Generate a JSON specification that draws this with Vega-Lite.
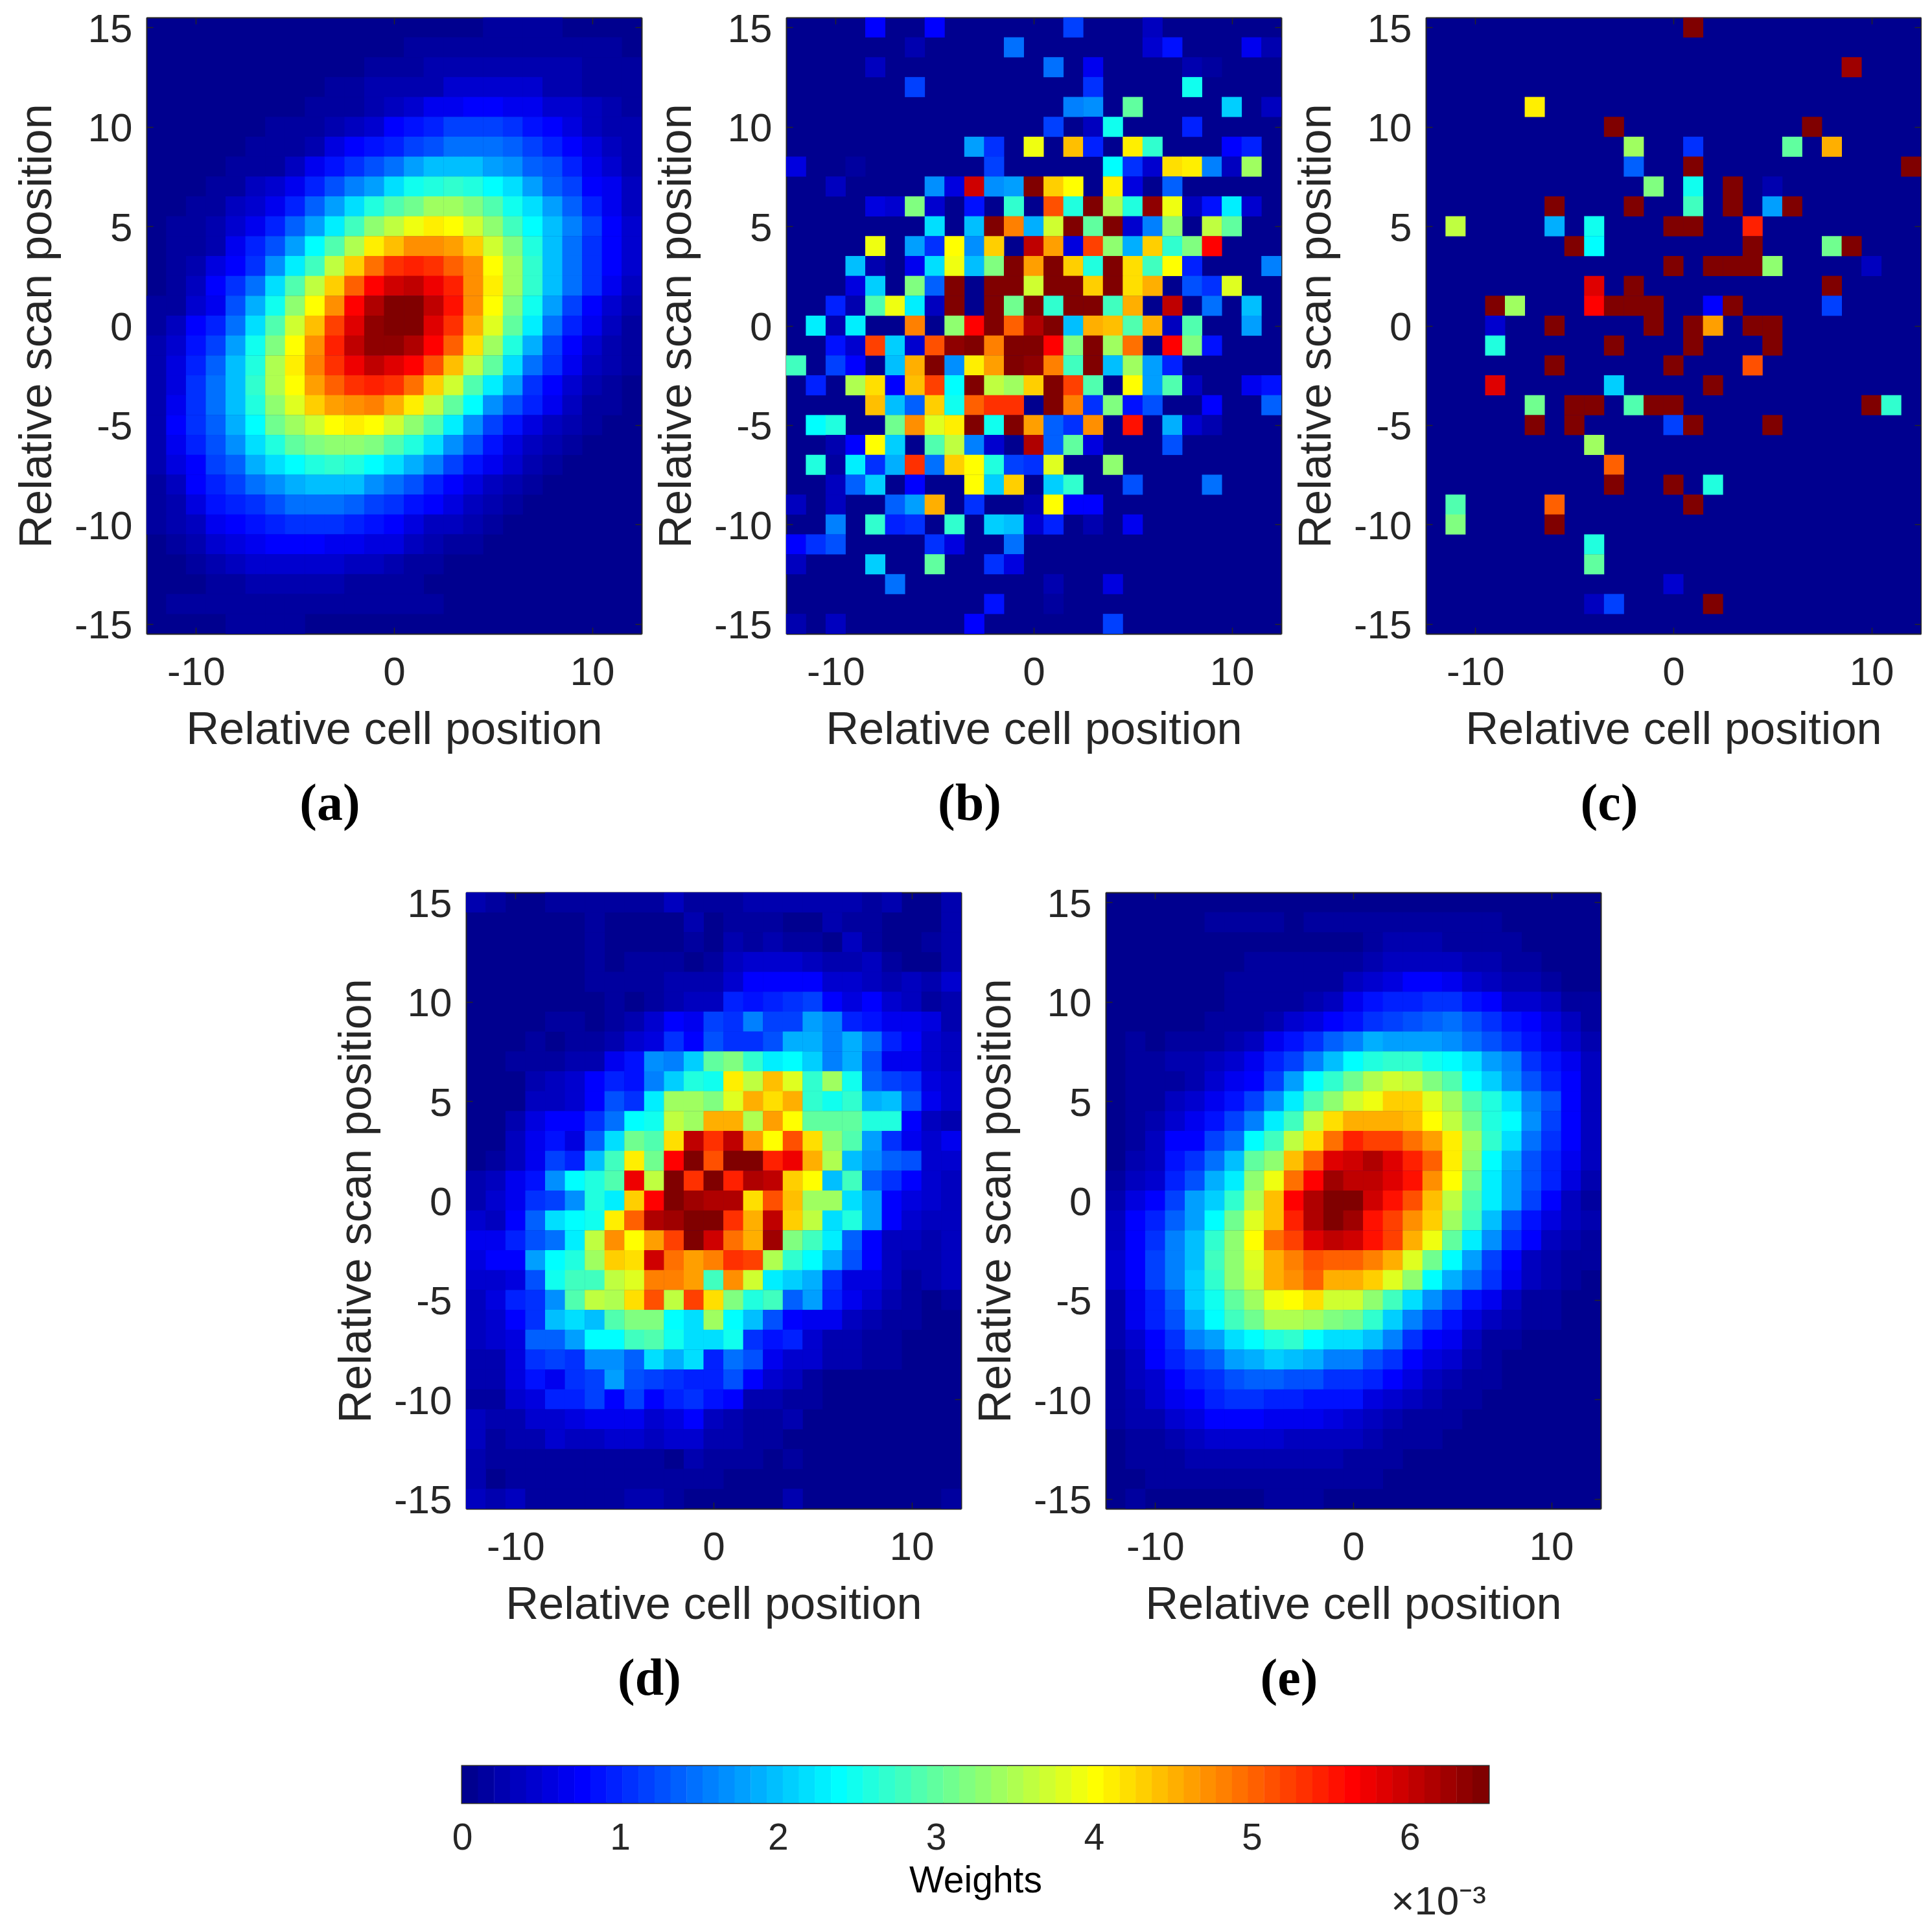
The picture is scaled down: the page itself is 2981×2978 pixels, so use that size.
{"$schema":"https://vega.github.io/schema/vega-lite/v6.json","background":"white","padding":{"left":21,"top":14,"right":0,"bottom":0},"autosize":{"type":"pad"},
"config":{"view":{"stroke":null,"fill":"#00008f"},"axis":{"grid":false,"zindex":1,"labelFont":"Liberation Sans","labelFontSize":62,"labelColor":"#262626","titleFont":"Liberation Sans","titleFontSize":70.5,"titleFontWeight":"normal","titleColor":"#262626","domainColor":"#262626","domainWidth":2,"tickColor":"#262626","tickWidth":1.5,"tickSize":-10,"labelFlush":false,"labelOverlap":false,"labelBound":false},"axisX":{"labelAngle":0,"labelPadding":39,"titleBaseline":"alphabetic","titleY":169},"axisY":{"labelPadding":32,"labelOffset":3,"titleBaseline":"alphabetic","titleX":-148},"title":{"font":"Liberation Serif","fontWeight":"bold","fontSize":80,"color":"#000000"}},
"datasets":{
"a":[{"x":5,"y":15,"v":0.15},{"x":6,"y":15,"v":0.15},{"x":7,"y":15,"v":0.15},{"x":8,"y":15,"v":0.15},{"x":1,"y":14,"v":0.15},{"x":3,"y":14,"v":0.15},{"x":5,"y":14,"v":0.15},{"x":7,"y":14,"v":0.15},{"x":9,"y":14,"v":0.15},{"x":11,"y":14,"v":0.15},{"x":2,"y":14,"v":0.15},{"x":4,"y":14,"v":0.15},{"x":6,"y":14,"v":0.15},{"x":8,"y":14,"v":0.15},{"x":10,"y":14,"v":0.15},{"x":-1,"y":13,"v":0.15},{"x":0,"y":13,"v":0.15},{"x":1,"y":13,"v":0.15},{"x":2,"y":13,"v":0.25},{"x":3,"y":13,"v":0.25},{"x":4,"y":13,"v":0.25},{"x":5,"y":13,"v":0.25},{"x":6,"y":13,"v":0.25},{"x":7,"y":13,"v":0.25},{"x":8,"y":13,"v":0.25},{"x":9,"y":13,"v":0.25},{"x":10,"y":13,"v":0.15},{"x":11,"y":13,"v":0.15},{"x":12,"y":13,"v":0.15},{"x":-3,"y":12,"v":0.15},{"x":-2,"y":12,"v":0.15},{"x":-1,"y":12,"v":0.25},{"x":0,"y":12,"v":0.25},{"x":1,"y":12,"v":0.3},{"x":2,"y":12,"v":0.3},{"x":3,"y":12,"v":0.45},{"x":4,"y":12,"v":0.45},{"x":5,"y":12,"v":0.45},{"x":6,"y":12,"v":0.45},{"x":7,"y":12,"v":0.45},{"x":8,"y":12,"v":0.3},{"x":9,"y":12,"v":0.3},{"x":10,"y":12,"v":0.2},{"x":11,"y":12,"v":0.2},{"x":12,"y":12,"v":0.2},
{"x":-4,"y":11,"v":0.15},{"x":-3,"y":11,"v":0.15},{"x":-2,"y":11,"v":0.2},{"x":-1,"y":11,"v":0.3},{"x":0,"y":11,"v":0.4},{"x":1,"y":11,"v":0.5},{"x":2,"y":11,"v":0.7},{"x":3,"y":11,"v":0.7},{"x":4,"y":11,"v":0.8},{"x":5,"y":11,"v":0.8},{"x":6,"y":11,"v":0.7},{"x":7,"y":11,"v":0.7},{"x":8,"y":11,"v":0.5},{"x":9,"y":11,"v":0.45},{"x":10,"y":11,"v":0.35},{"x":11,"y":11,"v":0.25},{"x":12,"y":11,"v":0.2},
{"x":-6,"y":10,"v":0.12},{"x":-5,"y":10,"v":0.12},{"x":-4,"y":10,"v":0.2},{"x":-3,"y":10,"v":0.3},{"x":-2,"y":10,"v":0.35},{"x":-1,"y":10,"v":0.5},{"x":0,"y":10,"v":0.75},{"x":1,"y":10,"v":0.85},{"x":2,"y":10,"v":1.0},{"x":3,"y":10,"v":1.15},{"x":4,"y":10,"v":1.15},{"x":5,"y":10,"v":1.15},{"x":6,"y":10,"v":1.05},{"x":7,"y":10,"v":0.9},{"x":8,"y":10,"v":0.75},{"x":9,"y":10,"v":0.6},{"x":10,"y":10,"v":0.4},{"x":11,"y":10,"v":0.3},{"x":12,"y":10,"v":0.25},
{"x":-7,"y":9,"v":0.12},{"x":-6,"y":9,"v":0.15},{"x":-5,"y":9,"v":0.15},{"x":-4,"y":9,"v":0.25},{"x":-3,"y":9,"v":0.55},{"x":-2,"y":9,"v":0.75},{"x":-1,"y":9,"v":0.85},{"x":0,"y":9,"v":1.0},{"x":1,"y":9,"v":1.15},{"x":2,"y":9,"v":1.3},{"x":3,"y":9,"v":1.45},{"x":4,"y":9,"v":1.45},{"x":5,"y":9,"v":1.45},{"x":6,"y":9,"v":1.35},{"x":7,"y":9,"v":1.15},{"x":8,"y":9,"v":0.95},{"x":9,"y":9,"v":0.8},{"x":10,"y":9,"v":0.6},{"x":11,"y":9,"v":0.4},{"x":12,"y":9,"v":0.25},
{"x":-8,"y":8,"v":0.12},{"x":-7,"y":8,"v":0.15},{"x":-6,"y":8,"v":0.15},{"x":-5,"y":8,"v":0.4},{"x":-4,"y":8,"v":0.7},{"x":-3,"y":8,"v":0.85},{"x":-2,"y":8,"v":1.05},{"x":-1,"y":8,"v":1.3},{"x":0,"y":8,"v":1.5},{"x":1,"y":8,"v":1.75},{"x":2,"y":8,"v":2.0},{"x":3,"y":8,"v":2.0},{"x":4,"y":8,"v":2.0},{"x":5,"y":8,"v":1.8},{"x":6,"y":8,"v":1.7},{"x":7,"y":8,"v":1.4},{"x":8,"y":8,"v":1.25},{"x":9,"y":8,"v":0.95},{"x":10,"y":8,"v":0.7},{"x":11,"y":8,"v":0.5},{"x":12,"y":8,"v":0.3},
{"x":-9,"y":7,"v":0.15},{"x":-8,"y":7,"v":0.2},{"x":-7,"y":7,"v":0.35},{"x":-6,"y":7,"v":0.45},{"x":-5,"y":7,"v":0.65},{"x":-4,"y":7,"v":1.0},{"x":-3,"y":7,"v":1.25},{"x":-2,"y":7,"v":1.55},{"x":-1,"y":7,"v":1.8},{"x":0,"y":7,"v":2.2},{"x":1,"y":7,"v":2.5},{"x":2,"y":7,"v":2.55},{"x":3,"y":7,"v":2.65},{"x":4,"y":7,"v":2.6},{"x":5,"y":7,"v":2.4},{"x":6,"y":7,"v":2.2},{"x":7,"y":7,"v":1.8},{"x":8,"y":7,"v":1.4},{"x":9,"y":7,"v":1.15},{"x":10,"y":7,"v":0.8},{"x":11,"y":7,"v":0.65},{"x":12,"y":7,"v":0.4},
{"x":-10,"y":6,"v":0.15},{"x":-9,"y":6,"v":0.2},{"x":-8,"y":6,"v":0.35},{"x":-7,"y":6,"v":0.5},{"x":-6,"y":6,"v":0.65},{"x":-5,"y":6,"v":0.95},{"x":-4,"y":6,"v":1.35},{"x":-3,"y":6,"v":1.8},{"x":-2,"y":6,"v":2.2},{"x":-1,"y":6,"v":2.55},{"x":0,"y":6,"v":2.85},{"x":1,"y":6,"v":3.1},{"x":2,"y":6,"v":3.4},{"x":3,"y":6,"v":3.4},{"x":4,"y":6,"v":3.15},{"x":5,"y":6,"v":2.85},{"x":6,"y":6,"v":2.5},{"x":7,"y":6,"v":2.2},{"x":8,"y":6,"v":1.8},{"x":9,"y":6,"v":1.4},{"x":10,"y":6,"v":1.0},{"x":11,"y":6,"v":0.7},{"x":12,"y":6,"v":0.4},
{"x":-11,"y":5,"v":0.12},{"x":-10,"y":5,"v":0.15},{"x":-9,"y":5,"v":0.3},{"x":-8,"y":5,"v":0.45},{"x":-7,"y":5,"v":0.7},{"x":-6,"y":5,"v":0.95},{"x":-5,"y":5,"v":1.35},{"x":-4,"y":5,"v":1.8},{"x":-3,"y":5,"v":2.3},{"x":-2,"y":5,"v":2.8},{"x":-1,"y":5,"v":3.3},{"x":0,"y":5,"v":3.65},{"x":1,"y":5,"v":3.95},{"x":2,"y":5,"v":4.15},{"x":3,"y":5,"v":4.0},{"x":4,"y":5,"v":3.75},{"x":5,"y":5,"v":3.35},{"x":6,"y":5,"v":2.8},{"x":7,"y":5,"v":2.4},{"x":8,"y":5,"v":2.0},{"x":9,"y":5,"v":1.6},{"x":10,"y":5,"v":1.2},{"x":11,"y":5,"v":0.8},{"x":12,"y":5,"v":0.5},
{"x":-11,"y":4,"v":0.12},{"x":-10,"y":4,"v":0.2},{"x":-9,"y":4,"v":0.3},{"x":-8,"y":4,"v":0.7},{"x":-7,"y":4,"v":0.95},{"x":-6,"y":4,"v":1.25},{"x":-5,"y":4,"v":1.8},{"x":-4,"y":4,"v":2.4},{"x":-3,"y":4,"v":2.9},{"x":-2,"y":4,"v":3.55},{"x":-1,"y":4,"v":4.15},{"x":0,"y":4,"v":4.45},{"x":1,"y":4,"v":4.7},{"x":2,"y":4,"v":4.7},{"x":3,"y":4,"v":4.6},{"x":4,"y":4,"v":4.3},{"x":5,"y":4,"v":3.75},{"x":6,"y":4,"v":3.2},{"x":7,"y":4,"v":2.6},{"x":8,"y":4,"v":2.0},{"x":9,"y":4,"v":1.5},{"x":10,"y":4,"v":1.05},{"x":11,"y":4,"v":0.75},{"x":12,"y":4,"v":0.45},
{"x":-11,"y":3,"v":0.15},{"x":-10,"y":3,"v":0.3},{"x":-9,"y":3,"v":0.55},{"x":-8,"y":3,"v":0.75},{"x":-7,"y":3,"v":1.1},{"x":-6,"y":3,"v":1.7},{"x":-5,"y":3,"v":2.25},{"x":-4,"y":3,"v":2.8},{"x":-3,"y":3,"v":3.65},{"x":-2,"y":3,"v":4.35},{"x":-1,"y":3,"v":4.9},{"x":0,"y":3,"v":5.3},{"x":1,"y":3,"v":5.45},{"x":2,"y":3,"v":5.35},{"x":3,"y":3,"v":5.05},{"x":4,"y":3,"v":4.7},{"x":5,"y":3,"v":4.0},{"x":6,"y":3,"v":3.4},{"x":7,"y":3,"v":2.7},{"x":8,"y":3,"v":2.0},{"x":9,"y":3,"v":1.5},{"x":10,"y":3,"v":1.1},{"x":11,"y":3,"v":0.8},{"x":12,"y":3,"v":0.45},
{"x":-11,"y":2,"v":0.2},{"x":-10,"y":2,"v":0.35},{"x":-9,"y":2,"v":0.75},{"x":-8,"y":2,"v":1.1},{"x":-7,"y":2,"v":1.5},{"x":-6,"y":2,"v":2.2},{"x":-5,"y":2,"v":2.9},{"x":-4,"y":2,"v":3.6},{"x":-3,"y":2,"v":4.35},{"x":-2,"y":2,"v":5.0},{"x":-1,"y":2,"v":5.6},{"x":0,"y":2,"v":5.9},{"x":1,"y":2,"v":6.0},{"x":2,"y":2,"v":5.75},{"x":3,"y":2,"v":5.4},{"x":4,"y":2,"v":4.75},{"x":5,"y":2,"v":4.15},{"x":6,"y":2,"v":3.4},{"x":7,"y":2,"v":2.65},{"x":8,"y":2,"v":2.0},{"x":9,"y":2,"v":1.45},{"x":10,"y":2,"v":1.05},{"x":11,"y":2,"v":0.7},{"x":12,"y":2,"v":0.4},
{"x":-12,"y":1,"v":0.15},{"x":-11,"y":1,"v":0.2},{"x":-10,"y":1,"v":0.45},{"x":-9,"y":1,"v":0.7},{"x":-8,"y":1,"v":1.25},{"x":-7,"y":1,"v":1.85},{"x":-6,"y":1,"v":2.5},{"x":-5,"y":1,"v":3.3},{"x":-4,"y":1,"v":4.05},{"x":-3,"y":1,"v":4.75},{"x":-2,"y":1,"v":5.6},{"x":-1,"y":1,"v":6.1},{"x":0,"y":1,"v":6.4},{"x":1,"y":1,"v":6.4},{"x":2,"y":1,"v":6.0},{"x":3,"y":1,"v":5.5},{"x":4,"y":1,"v":4.75},{"x":5,"y":1,"v":4.0},{"x":6,"y":1,"v":3.2},{"x":7,"y":1,"v":2.5},{"x":8,"y":1,"v":1.8},{"x":9,"y":1,"v":1.2},{"x":10,"y":1,"v":0.75},{"x":11,"y":1,"v":0.5},{"x":12,"y":1,"v":0.3},
{"x":-12,"y":0,"v":0.2},{"x":-11,"y":0,"v":0.35},{"x":-10,"y":0,"v":0.75},{"x":-9,"y":0,"v":1.0},{"x":-8,"y":0,"v":1.5},{"x":-7,"y":0,"v":2.2},{"x":-6,"y":0,"v":2.9},{"x":-5,"y":0,"v":3.7},{"x":-4,"y":0,"v":4.4},{"x":-3,"y":0,"v":5.2},{"x":-2,"y":0,"v":5.85},{"x":-1,"y":0,"v":6.35},{"x":0,"y":0,"v":6.5},{"x":1,"y":0,"v":6.4},{"x":2,"y":0,"v":5.85},{"x":3,"y":0,"v":5.3},{"x":4,"y":0,"v":4.5},{"x":5,"y":0,"v":3.8},{"x":6,"y":0,"v":3.0},{"x":7,"y":0,"v":2.25},{"x":8,"y":0,"v":1.5},{"x":9,"y":0,"v":1.0},{"x":10,"y":0,"v":0.7},{"x":11,"y":0,"v":0.4},{"x":12,"y":0,"v":0.2},
{"x":-12,"y":-1,"v":0.3},{"x":-11,"y":-1,"v":0.45},{"x":-10,"y":-1,"v":0.85},{"x":-9,"y":-1,"v":1.15},{"x":-8,"y":-1,"v":1.8},{"x":-7,"y":-1,"v":2.5},{"x":-6,"y":-1,"v":3.2},{"x":-5,"y":-1,"v":4.0},{"x":-4,"y":-1,"v":4.75},{"x":-3,"y":-1,"v":5.4},{"x":-2,"y":-1,"v":6.0},{"x":-1,"y":-1,"v":6.35},{"x":0,"y":-1,"v":6.35},{"x":1,"y":-1,"v":6.1},{"x":2,"y":-1,"v":5.6},{"x":3,"y":-1,"v":5.0},{"x":4,"y":-1,"v":4.2},{"x":5,"y":-1,"v":3.4},{"x":6,"y":-1,"v":2.55},{"x":7,"y":-1,"v":1.85},{"x":8,"y":-1,"v":1.2},{"x":9,"y":-1,"v":0.75},{"x":10,"y":-1,"v":0.5},{"x":11,"y":-1,"v":0.3},{"x":12,"y":-1,"v":0.2},
{"x":-12,"y":-2,"v":0.3},{"x":-11,"y":-2,"v":0.6},{"x":-10,"y":-2,"v":1.0},{"x":-9,"y":-2,"v":1.35},{"x":-8,"y":-2,"v":2.0},{"x":-7,"y":-2,"v":2.6},{"x":-6,"y":-2,"v":3.5},{"x":-5,"y":-2,"v":4.15},{"x":-4,"y":-2,"v":4.8},{"x":-3,"y":-2,"v":5.3},{"x":-2,"y":-2,"v":5.7},{"x":-1,"y":-2,"v":6.0},{"x":0,"y":-2,"v":5.85},{"x":1,"y":-2,"v":5.6},{"x":2,"y":-2,"v":5.1},{"x":3,"y":-2,"v":4.45},{"x":4,"y":-2,"v":3.65},{"x":5,"y":-2,"v":2.95},{"x":6,"y":-2,"v":2.2},{"x":7,"y":-2,"v":1.5},{"x":8,"y":-2,"v":1.05},{"x":9,"y":-2,"v":0.65},{"x":10,"y":-2,"v":0.35},{"x":11,"y":-2,"v":0.25},{"x":12,"y":-2,"v":0.15},
{"x":-12,"y":-3,"v":0.3},{"x":-11,"y":-3,"v":0.6},{"x":-10,"y":-3,"v":1.1},{"x":-9,"y":-3,"v":1.45},{"x":-8,"y":-3,"v":2.0},{"x":-7,"y":-3,"v":2.7},{"x":-6,"y":-3,"v":3.5},{"x":-5,"y":-3,"v":4.0},{"x":-4,"y":-3,"v":4.65},{"x":-3,"y":-3,"v":5.05},{"x":-2,"y":-3,"v":5.35},{"x":-1,"y":-3,"v":5.45},{"x":0,"y":-3,"v":5.3},{"x":1,"y":-3,"v":4.9},{"x":2,"y":-3,"v":4.35},{"x":3,"y":-3,"v":3.7},{"x":4,"y":-3,"v":2.85},{"x":5,"y":-3,"v":2.25},{"x":6,"y":-3,"v":1.75},{"x":7,"y":-3,"v":1.1},{"x":8,"y":-3,"v":0.75},{"x":9,"y":-3,"v":0.45},{"x":10,"y":-3,"v":0.25},{"x":11,"y":-3,"v":0.15},
{"x":-12,"y":-4,"v":0.3},{"x":-11,"y":-4,"v":0.7},{"x":-10,"y":-4,"v":1.1},{"x":-9,"y":-4,"v":1.45},{"x":-8,"y":-4,"v":2.0},{"x":-7,"y":-4,"v":2.6},{"x":-6,"y":-4,"v":3.3},{"x":-5,"y":-4,"v":3.8},{"x":-4,"y":-4,"v":4.3},{"x":-3,"y":-4,"v":4.6},{"x":-2,"y":-4,"v":4.75},{"x":-1,"y":-4,"v":4.8},{"x":0,"y":-4,"v":4.55},{"x":1,"y":-4,"v":4.15},{"x":2,"y":-4,"v":3.65},{"x":3,"y":-4,"v":3.0},{"x":4,"y":-4,"v":2.4},{"x":5,"y":-4,"v":1.65},{"x":6,"y":-4,"v":1.25},{"x":7,"y":-4,"v":0.95},{"x":8,"y":-4,"v":0.7},{"x":9,"y":-4,"v":0.4},{"x":10,"y":-4,"v":0.2},{"x":11,"y":-4,"v":0.15},
{"x":-12,"y":-5,"v":0.3},{"x":-11,"y":-5,"v":0.75},{"x":-10,"y":-5,"v":1.1},{"x":-9,"y":-5,"v":1.4},{"x":-8,"y":-5,"v":1.85},{"x":-7,"y":-5,"v":2.35},{"x":-6,"y":-5,"v":3.05},{"x":-5,"y":-5,"v":3.45},{"x":-4,"y":-5,"v":3.75},{"x":-3,"y":-5,"v":4.0},{"x":-2,"y":-5,"v":4.1},{"x":-1,"y":-5,"v":4.0},{"x":0,"y":-5,"v":3.75},{"x":1,"y":-5,"v":3.35},{"x":2,"y":-5,"v":2.9},{"x":3,"y":-5,"v":2.25},{"x":4,"y":-5,"v":1.65},{"x":5,"y":-5,"v":1.2},{"x":6,"y":-5,"v":0.85},{"x":7,"y":-5,"v":0.55},{"x":8,"y":-5,"v":0.35},{"x":9,"y":-5,"v":0.25},{"x":10,"y":-5,"v":0.15},
{"x":-12,"y":-6,"v":0.3},{"x":-11,"y":-6,"v":0.65},{"x":-10,"y":-6,"v":1.0},{"x":-9,"y":-6,"v":1.3},{"x":-8,"y":-6,"v":1.65},{"x":-7,"y":-6,"v":2.15},{"x":-6,"y":-6,"v":2.55},{"x":-5,"y":-6,"v":3.0},{"x":-4,"y":-6,"v":3.2},{"x":-3,"y":-6,"v":3.35},{"x":-2,"y":-6,"v":3.35},{"x":-1,"y":-6,"v":3.2},{"x":0,"y":-6,"v":2.85},{"x":1,"y":-6,"v":2.55},{"x":2,"y":-6,"v":2.2},{"x":3,"y":-6,"v":1.7},{"x":4,"y":-6,"v":1.3},{"x":5,"y":-6,"v":0.9},{"x":6,"y":-6,"v":0.6},{"x":7,"y":-6,"v":0.4},{"x":8,"y":-6,"v":0.25},{"x":9,"y":-6,"v":0.15},
{"x":-12,"y":-7,"v":0.3},{"x":-11,"y":-7,"v":0.6},{"x":-10,"y":-7,"v":0.8},{"x":-9,"y":-7,"v":1.15},{"x":-8,"y":-7,"v":1.4},{"x":-7,"y":-7,"v":1.9},{"x":-6,"y":-7,"v":2.15},{"x":-5,"y":-7,"v":2.4},{"x":-4,"y":-7,"v":2.55},{"x":-3,"y":-7,"v":2.65},{"x":-2,"y":-7,"v":2.55},{"x":-1,"y":-7,"v":2.4},{"x":0,"y":-7,"v":2.2},{"x":1,"y":-7,"v":1.9},{"x":2,"y":-7,"v":1.55},{"x":3,"y":-7,"v":1.15},{"x":4,"y":-7,"v":0.9},{"x":5,"y":-7,"v":0.65},{"x":6,"y":-7,"v":0.45},{"x":7,"y":-7,"v":0.25},{"x":8,"y":-7,"v":0.15},
{"x":-12,"y":-8,"v":0.2},{"x":-11,"y":-8,"v":0.4},{"x":-10,"y":-8,"v":0.75},{"x":-9,"y":-8,"v":1.0},{"x":-8,"y":-8,"v":1.2},{"x":-7,"y":-8,"v":1.45},{"x":-6,"y":-8,"v":1.7},{"x":-5,"y":-8,"v":1.85},{"x":-4,"y":-8,"v":2.0},{"x":-3,"y":-8,"v":2.0},{"x":-2,"y":-8,"v":2.0},{"x":-1,"y":-8,"v":1.7},{"x":0,"y":-8,"v":1.5},{"x":1,"y":-8,"v":1.25},{"x":2,"y":-8,"v":1.0},{"x":3,"y":-8,"v":0.8},{"x":4,"y":-8,"v":0.6},{"x":5,"y":-8,"v":0.4},{"x":6,"y":-8,"v":0.25},{"x":7,"y":-8,"v":0.15},
{"x":-12,"y":-9,"v":0.2},{"x":-11,"y":-9,"v":0.3},{"x":-10,"y":-9,"v":0.6},{"x":-9,"y":-9,"v":0.85},{"x":-8,"y":-9,"v":0.95},{"x":-7,"y":-9,"v":1.1},{"x":-6,"y":-9,"v":1.3},{"x":-5,"y":-9,"v":1.45},{"x":-4,"y":-9,"v":1.45},{"x":-3,"y":-9,"v":1.45},{"x":-2,"y":-9,"v":1.35},{"x":-1,"y":-9,"v":1.15},{"x":0,"y":-9,"v":1.05},{"x":1,"y":-9,"v":0.9},{"x":2,"y":-9,"v":0.75},{"x":3,"y":-9,"v":0.55},{"x":4,"y":-9,"v":0.4},{"x":5,"y":-9,"v":0.3},{"x":6,"y":-9,"v":0.15},
{"x":-12,"y":-10,"v":0.15},{"x":-11,"y":-10,"v":0.25},{"x":-10,"y":-10,"v":0.4},{"x":-9,"y":-10,"v":0.65},{"x":-8,"y":-10,"v":0.8},{"x":-7,"y":-10,"v":0.9},{"x":-6,"y":-10,"v":1.0},{"x":-5,"y":-10,"v":1.1},{"x":-4,"y":-10,"v":1.1},{"x":-3,"y":-10,"v":1.1},{"x":-2,"y":-10,"v":0.95},{"x":-1,"y":-10,"v":0.85},{"x":0,"y":-10,"v":0.75},{"x":1,"y":-10,"v":0.55},{"x":2,"y":-10,"v":0.4},{"x":3,"y":-10,"v":0.35},{"x":4,"y":-10,"v":0.25},{"x":5,"y":-10,"v":0.15},
{"x":-11,"y":-11,"v":0.15},{"x":-10,"y":-11,"v":0.25},{"x":-9,"y":-11,"v":0.45},{"x":-8,"y":-11,"v":0.6},{"x":-7,"y":-11,"v":0.7},{"x":-6,"y":-11,"v":0.75},{"x":-5,"y":-11,"v":0.8},{"x":-4,"y":-11,"v":0.75},{"x":-3,"y":-11,"v":0.65},{"x":-2,"y":-11,"v":0.65},{"x":-1,"y":-11,"v":0.6},{"x":0,"y":-11,"v":0.55},{"x":1,"y":-11,"v":0.4},{"x":2,"y":-11,"v":0.3},{"x":3,"y":-11,"v":0.2},{"x":4,"y":-11,"v":0.15},
{"x":-10,"y":-12,"v":0.15},{"x":-9,"y":-12,"v":0.3},{"x":-8,"y":-12,"v":0.35},{"x":-7,"y":-12,"v":0.45},{"x":-6,"y":-12,"v":0.5},{"x":-5,"y":-12,"v":0.5},{"x":-4,"y":-12,"v":0.5},{"x":-3,"y":-12,"v":0.45},{"x":-2,"y":-12,"v":0.35},{"x":-1,"y":-12,"v":0.35},{"x":0,"y":-12,"v":0.3},{"x":1,"y":-12,"v":0.2},{"x":2,"y":-12,"v":0.15},
{"x":-9,"y":-13,"v":0.2},{"x":-8,"y":-13,"v":0.2},{"x":-7,"y":-13,"v":0.25},{"x":-6,"y":-13,"v":0.25},{"x":-5,"y":-13,"v":0.25},{"x":-4,"y":-13,"v":0.25},{"x":-3,"y":-13,"v":0.25},{"x":-2,"y":-13,"v":0.2},{"x":-1,"y":-13,"v":0.15},{"x":0,"y":-13,"v":0.15},{"x":1,"y":-13,"v":0.15},
{"x":-11,"y":-14,"v":0.15},{"x":-10,"y":-14,"v":0.15},{"x":-9,"y":-14,"v":0.15},{"x":-8,"y":-14,"v":0.15},{"x":-7,"y":-14,"v":0.15},{"x":-6,"y":-14,"v":0.15},{"x":-5,"y":-14,"v":0.15},{"x":-4,"y":-14,"v":0.15},{"x":-3,"y":-14,"v":0.15},{"x":-2,"y":-14,"v":0.15},{"x":-1,"y":-14,"v":0.15},{"x":0,"y":-14,"v":0.15},{"x":1,"y":-14,"v":0.15},{"x":2,"y":-14,"v":0.15},{"x":-8,"y":-15,"v":0.15},{"x":-7,"y":-15,"v":0.15},{"x":-6,"y":-15,"v":0.15},{"x":-5,"y":-15,"v":0.15}],
"b":[{"x":-8,"y":15,"v":0.8},{"x":-5,"y":15,"v":0.8},{"x":2,"y":15,"v":1.15},{"x":6,"y":15,"v":0.35},{"x":-6,"y":14,"v":0.25},{"x":-1,"y":14,"v":1.45},{"x":6,"y":14,"v":0.45},{"x":7,"y":14,"v":0.9},{"x":11,"y":14,"v":0.7},{"x":12,"y":14,"v":0.3},{"x":-8,"y":13,"v":0.4},{"x":1,"y":13,"v":1.45},{"x":3,"y":13,"v":0.7},{"x":8,"y":13,"v":0.3},{"x":9,"y":13,"v":0.2},{"x":-6,"y":12,"v":1.15},{"x":3,"y":12,"v":1.05},{"x":8,"y":12,"v":2.45},{"x":2,"y":11,"v":1.6},{"x":3,"y":11,"v":1.7},{"x":5,"y":11,"v":3.0},{"x":10,"y":11,"v":2.1},{"x":12,"y":11,"v":0.35},{"x":1,"y":10,"v":1.2},{"x":3,"y":10,"v":0.35},{"x":4,"y":10,"v":2.5},{"x":8,"y":10,"v":1.0},{"x":-3,"y":9,"v":1.8},{"x":-2,"y":9,"v":1.05},{"x":0,"y":9,"v":3.9},{"x":2,"y":9,"v":4.4},{"x":3,"y":9,"v":1.0},{"x":5,"y":9,"v":4.1},{"x":6,"y":9,"v":2.65},{"x":10,"y":9,"v":0.8},{"x":11,"y":9,"v":1.0},{"x":-12,"y":8,"v":0.6},{"x":-9,"y":8,"v":0.2},{"x":-2,"y":8,"v":1.2},{"x":4,"y":8,"v":2.4},{"x":5,"y":8,"v":1.05},{"x":6,"y":8,"v":0.5},{"x":7,"y":8,"v":4.25},{"x":8,"y":8,"v":4.15},{"x":9,"y":8,"v":1.6},{"x":10,"y":8,"v":0.35},{"x":11,"y":8,"v":3.45},{"x":-10,"y":7,"v":0.35},{"x":-5,"y":7,"v":1.7},{"x":-4,"y":7,"v":0.6},{"x":-3,"y":7,"v":5.9},{"x":-2,"y":7,"v":1.7},{"x":-1,"y":7,"v":1.8},{"x":0,"y":7,"v":6.5},{"x":1,"y":7,"v":4.3},{"x":2,"y":7,"v":4.05},{"x":4,"y":7,"v":4.15},{"x":5,"y":7,"v":0.55},{"x":7,"y":7,"v":1.35},{"x":-8,"y":6,"v":0.55},{"x":-7,"y":6,"v":0.45},{"x":-6,"y":6,"v":3.2},{"x":-5,"y":6,"v":0.5},{"x":-3,"y":6,"v":0.85},{"x":-1,"y":6,"v":2.7},{"x":1,"y":6,"v":5.1},{"x":2,"y":6,"v":2.55},{"x":3,"y":6,"v":6.5},{"x":4,"y":6,"v":3.55},{"x":5,"y":6,"v":2.55},{"x":6,"y":6,"v":6.3},{"x":7,"y":6,"v":3.95},{"x":8,"y":6,"v":0.35},{"x":9,"y":6,"v":0.85},{"x":10,"y":6,"v":2.25},{"x":11,"y":6,"v":0.5},{"x":-5,"y":5,"v":2.2},{"x":-3,"y":5,"v":2.0},{"x":-2,"y":5,"v":6.5},{"x":-1,"y":5,"v":4.85},{"x":0,"y":5,"v":1.9},{"x":1,"y":5,"v":3.7},{"x":2,"y":5,"v":6.5},{"x":3,"y":5,"v":2.95},{"x":4,"y":5,"v":6.5},{"x":5,"y":5,"v":0.5},{"x":6,"y":5,"v":1.55},{"x":7,"y":5,"v":3.3},{"x":9,"y":5,"v":3.6},{"x":10,"y":5,"v":3.0},{"x":-8,"y":4,"v":3.95},{"x":-6,"y":4,"v":1.75},{"x":-5,"y":4,"v":1.05},{"x":-4,"y":4,"v":4.05},{"x":-3,"y":4,"v":1.7},{"x":-2,"y":4,"v":4.35},{"x":0,"y":4,"v":6.0},{"x":1,"y":4,"v":4.6},{"x":2,"y":4,"v":0.55},{"x":3,"y":4,"v":5.2},{"x":4,"y":4,"v":3.3},{"x":5,"y":4,"v":1.9},{"x":6,"y":4,"v":4.3},{"x":7,"y":4,"v":2.7},{"x":8,"y":4,"v":3.2},{"x":9,"y":4,"v":5.6},{"x":-9,"y":3,"v":2.0},{"x":-8,"y":3,"v":0.3},{"x":-6,"y":3,"v":0.65},{"x":-5,"y":3,"v":2.15},{"x":-4,"y":3,"v":3.9},{"x":-3,"y":3,"v":2.0},{"x":-2,"y":3,"v":3.2},{"x":-1,"y":3,"v":6.5},{"x":0,"y":3,"v":4.6},{"x":1,"y":3,"v":6.5},{"x":2,"y":3,"v":4.3},{"x":3,"y":3,"v":2.55},{"x":4,"y":3,"v":6.5},{"x":5,"y":3,"v":4.2},{"x":6,"y":3,"v":2.75},{"x":7,"y":3,"v":4.05},{"x":8,"y":3,"v":1.0},{"x":12,"y":3,"v":1.6},{"x":-9,"y":2,"v":0.6},{"x":-8,"y":2,"v":2.1},{"x":-6,"y":2,"v":3.2},{"x":-5,"y":2,"v":1.35},{"x":-4,"y":2,"v":6.5},{"x":-2,"y":2,"v":6.5},{"x":-1,"y":2,"v":6.5},{"x":0,"y":2,"v":3.7},{"x":1,"y":2,"v":6.5},{"x":2,"y":2,"v":6.5},{"x":3,"y":2,"v":4.3},{"x":4,"y":2,"v":6.5},{"x":5,"y":2,"v":4.2},{"x":6,"y":2,"v":4.55},{"x":8,"y":2,"v":1.25},{"x":9,"y":2,"v":1.1},{"x":10,"y":2,"v":3.85},{"x":-10,"y":1,"v":1.0},{"x":-9,"y":1,"v":0.25},{"x":-8,"y":1,"v":2.85},{"x":-7,"y":1,"v":3.95},{"x":-6,"y":1,"v":2.3},{"x":-5,"y":1,"v":0.35},{"x":-4,"y":1,"v":6.5},{"x":-2,"y":1,"v":6.5},{"x":-1,"y":1,"v":3.1},{"x":0,"y":1,"v":6.5},{"x":1,"y":1,"v":2.7},{"x":2,"y":1,"v":6.5},{"x":3,"y":1,"v":6.5},{"x":4,"y":1,"v":2.75},{"x":5,"y":1,"v":4.55},{"x":7,"y":1,"v":6.0},{"x":9,"y":1,"v":1.5},{"x":11,"y":1,"v":2.0},{"x":-11,"y":0,"v":2.3},{"x":-10,"y":0,"v":0.3},{"x":-9,"y":0,"v":2.3},{"x":-6,"y":0,"v":4.85},{"x":-4,"y":0,"v":3.35},{"x":-3,"y":0,"v":5.6},{"x":-2,"y":0,"v":6.5},{"x":-1,"y":0,"v":5.0},{"x":0,"y":0,"v":6.1},{"x":1,"y":0,"v":6.5},{"x":2,"y":0,"v":2.0},{"x":3,"y":0,"v":4.55},{"x":4,"y":0,"v":4.4},{"x":5,"y":0,"v":2.85},{"x":6,"y":0,"v":4.5},{"x":7,"y":0,"v":0.35},{"x":8,"y":0,"v":2.85},{"x":11,"y":0,"v":1.75},{"x":-10,"y":-1,"v":0.85},{"x":-9,"y":-1,"v":0.5},{"x":-8,"y":-1,"v":5.2},{"x":-7,"y":-1,"v":2.1},{"x":-6,"y":-1,"v":0.5},{"x":-5,"y":-1,"v":5.1},{"x":-4,"y":-1,"v":6.3},{"x":-3,"y":-1,"v":6.5},{"x":-2,"y":-1,"v":4.8},{"x":-1,"y":-1,"v":6.5},{"x":0,"y":-1,"v":6.5},{"x":1,"y":-1,"v":5.6},{"x":2,"y":-1,"v":3.2},{"x":3,"y":-1,"v":6.5},{"x":4,"y":-1,"v":3.45},{"x":5,"y":-1,"v":4.9},{"x":7,"y":-1,"v":5.6},{"x":8,"y":-1,"v":3.2},{"x":9,"y":-1,"v":0.85},{"x":-12,"y":-2,"v":2.8},{"x":-10,"y":-2,"v":1.2},{"x":-9,"y":-2,"v":0.8},{"x":-7,"y":-2,"v":2.0},{"x":-6,"y":-2,"v":4.5},{"x":-5,"y":-2,"v":6.5},{"x":-4,"y":-2,"v":1.7},{"x":-3,"y":-2,"v":4.15},{"x":-2,"y":-2,"v":4.6},{"x":-1,"y":-2,"v":6.5},{"x":0,"y":-2,"v":6.3},{"x":1,"y":-2,"v":4.85},{"x":2,"y":-2,"v":2.8},{"x":3,"y":-2,"v":6.5},{"x":4,"y":-2,"v":2.0},{"x":5,"y":-2,"v":3.45},{"x":6,"y":-2,"v":1.75},{"x":7,"y":-2,"v":0.95},{"x":-11,"y":-3,"v":1.0},{"x":-9,"y":-3,"v":3.5},{"x":-8,"y":-3,"v":4.2},{"x":-7,"y":-3,"v":0.8},{"x":-6,"y":-3,"v":4.4},{"x":-5,"y":-3,"v":5.2},{"x":-4,"y":-3,"v":2.4},{"x":-3,"y":-3,"v":6.5},{"x":-2,"y":-3,"v":3.6},{"x":-1,"y":-3,"v":3.4},{"x":0,"y":-3,"v":4.3},{"x":1,"y":-3,"v":6.5},{"x":2,"y":-3,"v":5.2},{"x":3,"y":-3,"v":2.9},{"x":5,"y":-3,"v":4.0},{"x":6,"y":-3,"v":1.75},{"x":7,"y":-3,"v":2.85},{"x":8,"y":-3,"v":0.35},{"x":11,"y":-3,"v":0.65},{"x":12,"y":-3,"v":0.9},{"x":-8,"y":-4,"v":4.4},{"x":-7,"y":-4,"v":2.0},{"x":-6,"y":-4,"v":1.35},{"x":-5,"y":-4,"v":4.3},{"x":-4,"y":-4,"v":2.5},{"x":-3,"y":-4,"v":5.0},{"x":-2,"y":-4,"v":5.3},{"x":-1,"y":-4,"v":5.3},{"x":1,"y":-4,"v":6.5},{"x":2,"y":-4,"v":4.8},{"x":3,"y":-4,"v":1.1},{"x":4,"y":-4,"v":3.2},{"x":5,"y":-4,"v":0.85},{"x":6,"y":-4,"v":1.25},{"x":9,"y":-4,"v":0.8},{"x":12,"y":-4,"v":1.35},{"x":-11,"y":-5,"v":2.4},{"x":-10,"y":-5,"v":2.6},{"x":-7,"y":-5,"v":3.05},{"x":-6,"y":-5,"v":4.75},{"x":-5,"y":-5,"v":3.85},{"x":-4,"y":-5,"v":4.15},{"x":-3,"y":-5,"v":6.5},{"x":-2,"y":-5,"v":2.5},{"x":-1,"y":-5,"v":6.5},{"x":0,"y":-5,"v":4.65},{"x":1,"y":-5,"v":1.4},{"x":2,"y":-5,"v":1.05},{"x":3,"y":-5,"v":4.75},{"x":5,"y":-5,"v":5.5},{"x":7,"y":-5,"v":1.85},{"x":8,"y":-5,"v":0.5},{"x":9,"y":-5,"v":0.3},{"x":-10,"y":-6,"v":0.25},{"x":-9,"y":-6,"v":0.8},{"x":-8,"y":-6,"v":4.0},{"x":-7,"y":-6,"v":2.05},{"x":-5,"y":-6,"v":2.9},{"x":-4,"y":-6,"v":3.65},{"x":-3,"y":-6,"v":1.6},{"x":-2,"y":-6,"v":0.5},{"x":0,"y":-6,"v":6.1},{"x":1,"y":-6,"v":1.4},{"x":2,"y":-6,"v":3.0},{"x":3,"y":-6,"v":0.55},{"x":7,"y":-6,"v":1.25},{"x":-11,"y":-7,"v":2.6},{"x":-10,"y":-7,"v":0.2},{"x":-9,"y":-7,"v":2.3},{"x":-8,"y":-7,"v":1.05},{"x":-7,"y":-7,"v":1.85},{"x":-6,"y":-7,"v":5.3},{"x":-5,"y":-7,"v":1.5},{"x":-4,"y":-7,"v":4.3},{"x":-3,"y":-7,"v":4.05},{"x":-2,"y":-7,"v":2.55},{"x":-1,"y":-7,"v":1.2},{"x":0,"y":-7,"v":1.1},{"x":1,"y":-7,"v":3.85},{"x":4,"y":-7,"v":3.3},{"x":-10,"y":-8,"v":0.4},{"x":-9,"y":-8,"v":1.35},{"x":-8,"y":-8,"v":2.1},{"x":-6,"y":-8,"v":0.75},{"x":-3,"y":-8,"v":4.0},{"x":-2,"y":-8,"v":2.05},{"x":-1,"y":-8,"v":4.35},{"x":1,"y":-8,"v":2.05},{"x":2,"y":-8,"v":2.65},{"x":5,"y":-8,"v":1.3},{"x":9,"y":-8,"v":1.45},{"x":-12,"y":-9,"v":0.35},{"x":-10,"y":-9,"v":0.4},{"x":-7,"y":-9,"v":1.35},{"x":-6,"y":-9,"v":1.75},{"x":-5,"y":-9,"v":4.55},{"x":-3,"y":-9,"v":1.05},{"x":0,"y":-9,"v":0.3},{"x":1,"y":-9,"v":4.05},{"x":2,"y":-9,"v":0.8},{"x":3,"y":-9,"v":0.8},{"x":-10,"y":-10,"v":1.55},{"x":-8,"y":-10,"v":2.65},{"x":-7,"y":-10,"v":1.0},{"x":-6,"y":-10,"v":1.05},{"x":-4,"y":-10,"v":2.65},{"x":-2,"y":-10,"v":2.1},{"x":-1,"y":-10,"v":2.0},{"x":0,"y":-10,"v":0.45},{"x":1,"y":-10,"v":1.0},{"x":3,"y":-10,"v":0.3},{"x":5,"y":-10,"v":0.65},{"x":-12,"y":-11,"v":0.75},{"x":-11,"y":-11,"v":1.1},{"x":-10,"y":-11,"v":1.25},{"x":-5,"y":-11,"v":1.05},{"x":-4,"y":-11,"v":0.55},{"x":-1,"y":-11,"v":1.45},{"x":-12,"y":-12,"v":0.4},{"x":-8,"y":-12,"v":2.05},{"x":-5,"y":-12,"v":3.0},{"x":-2,"y":-12,"v":1.05},{"x":-1,"y":-12,"v":0.55},{"x":-7,"y":-13,"v":1.5},{"x":1,"y":-13,"v":0.3},{"x":4,"y":-13,"v":0.6},{"x":-2,"y":-14,"v":0.85},{"x":1,"y":-14,"v":0.2},{"x":-12,"y":-15,"v":0.3},{"x":-10,"y":-15,"v":0.4},{"x":-3,"y":-15,"v":0.8},{"x":4,"y":-15,"v":1.2}],
"c":[{"x":1,"y":15,"v":6.5},{"x":9,"y":13,"v":6.2},{"x":-7,"y":11,"v":4.1},{"x":-3,"y":10,"v":6.5},{"x":7,"y":10,"v":6.5},{"x":-2,"y":9,"v":3.4},{"x":1,"y":9,"v":1.1},{"x":6,"y":9,"v":3.0},{"x":8,"y":9,"v":4.55},{"x":-2,"y":8,"v":1.4},{"x":1,"y":8,"v":6.5},{"x":12,"y":8,"v":6.5},{"x":-1,"y":7,"v":3.15},{"x":1,"y":7,"v":2.5},{"x":3,"y":7,"v":6.5},{"x":5,"y":7,"v":0.3},{"x":-6,"y":6,"v":6.5},{"x":-2,"y":6,"v":6.5},{"x":1,"y":6,"v":2.8},{"x":3,"y":6,"v":6.5},{"x":5,"y":6,"v":1.8},{"x":6,"y":6,"v":6.5},{"x":-11,"y":5,"v":3.6},{"x":-6,"y":5,"v":1.9},{"x":-4,"y":5,"v":2.5},{"x":0,"y":5,"v":6.5},{"x":1,"y":5,"v":6.5},{"x":4,"y":5,"v":5.4},{"x":-5,"y":4,"v":6.5},{"x":-4,"y":4,"v":2.35},{"x":4,"y":4,"v":6.5},{"x":8,"y":4,"v":3.05},{"x":9,"y":4,"v":6.5},{"x":0,"y":3,"v":6.5},{"x":2,"y":3,"v":6.5},{"x":3,"y":3,"v":6.5},{"x":4,"y":3,"v":6.5},{"x":5,"y":3,"v":3.3},{"x":10,"y":3,"v":0.4},{"x":-4,"y":2,"v":5.85},{"x":-2,"y":2,"v":6.5},{"x":8,"y":2,"v":6.5},{"x":-9,"y":1,"v":6.5},{"x":-8,"y":1,"v":3.4},{"x":-4,"y":1,"v":5.6},{"x":-3,"y":1,"v":6.5},{"x":-2,"y":1,"v":6.5},{"x":-1,"y":1,"v":6.5},{"x":2,"y":1,"v":0.75},{"x":3,"y":1,"v":6.5},{"x":8,"y":1,"v":1.15},{"x":-9,"y":0,"v":0.5},{"x":-6,"y":0,"v":6.5},{"x":-1,"y":0,"v":6.5},{"x":1,"y":0,"v":6.5},{"x":2,"y":0,"v":4.6},{"x":4,"y":0,"v":6.5},{"x":5,"y":0,"v":6.5},{"x":-9,"y":-1,"v":2.6},{"x":-3,"y":-1,"v":6.5},{"x":1,"y":-1,"v":6.5},{"x":5,"y":-1,"v":6.5},{"x":-6,"y":-2,"v":6.5},{"x":0,"y":-2,"v":6.5},{"x":4,"y":-2,"v":5.1},{"x":-9,"y":-3,"v":5.85},{"x":-3,"y":-3,"v":2.05},{"x":2,"y":-3,"v":6.5},{"x":-7,"y":-4,"v":3.05},{"x":-5,"y":-4,"v":6.5},{"x":-4,"y":-4,"v":6.5},{"x":-2,"y":-4,"v":2.9},{"x":-1,"y":-4,"v":6.5},{"x":0,"y":-4,"v":6.5},{"x":10,"y":-4,"v":6.5},{"x":11,"y":-4,"v":2.7},{"x":-7,"y":-5,"v":6.5},{"x":-5,"y":-5,"v":6.5},{"x":0,"y":-5,"v":1.15},{"x":1,"y":-5,"v":6.5},{"x":5,"y":-5,"v":6.5},{"x":-4,"y":-6,"v":3.4},{"x":-3,"y":-7,"v":5.05},{"x":-3,"y":-8,"v":6.5},{"x":0,"y":-8,"v":6.5},{"x":2,"y":-8,"v":2.6},{"x":-11,"y":-9,"v":2.85},{"x":-6,"y":-9,"v":5.0},{"x":1,"y":-9,"v":6.5},{"x":-11,"y":-10,"v":3.15},{"x":-6,"y":-10,"v":6.5},{"x":-4,"y":-11,"v":2.6},{"x":-4,"y":-12,"v":3.0},{"x":0,"y":-13,"v":0.45},{"x":-4,"y":-14,"v":0.4},{"x":-3,"y":-14,"v":1.2},{"x":2,"y":-14,"v":6.5}],
"d":[{"x":-12,"y":15,"v":0.3},{"x":-11,"y":15,"v":0.15},{"x":-8,"y":15,"v":0.2},{"x":-7,"y":15,"v":0.2},{"x":-6,"y":15,"v":0.2},{"x":-5,"y":15,"v":0.2},{"x":-4,"y":15,"v":0.2},{"x":-3,"y":15,"v":0.2},{"x":-2,"y":15,"v":0.35},{"x":-1,"y":15,"v":0.2},{"x":0,"y":15,"v":0.2},{"x":1,"y":15,"v":0.2},{"x":2,"y":15,"v":0.25},{"x":3,"y":15,"v":0.25},{"x":4,"y":15,"v":0.25},{"x":5,"y":15,"v":0.25},{"x":6,"y":15,"v":0.25},{"x":7,"y":15,"v":0.25},{"x":8,"y":15,"v":0.15},{"x":9,"y":15,"v":0.3},{"x":12,"y":15,"v":0.25},
{"x":-6,"y":14,"v":0.15},{"x":-1,"y":14,"v":0.3},{"x":1,"y":14,"v":0.2},{"x":2,"y":14,"v":0.2},{"x":3,"y":14,"v":0.2},{"x":6,"y":14,"v":0.25},{"x":7,"y":14,"v":0.2},{"x":8,"y":14,"v":0.15},{"x":12,"y":14,"v":0.25},{"x":-6,"y":13,"v":0.15},{"x":-1,"y":13,"v":0.15},{"x":1,"y":13,"v":0.3},{"x":2,"y":13,"v":0.2},{"x":3,"y":13,"v":0.3},{"x":4,"y":13,"v":0.2},{"x":5,"y":13,"v":0.2},{"x":7,"y":13,"v":0.35},{"x":8,"y":13,"v":0.15},{"x":11,"y":13,"v":0.15},{"x":12,"y":13,"v":0.25},
{"x":-6,"y":12,"v":0.15},{"x":-4,"y":12,"v":0.15},{"x":-3,"y":12,"v":0.15},{"x":-2,"y":12,"v":0.15},{"x":0,"y":12,"v":0.2},{"x":1,"y":12,"v":0.35},{"x":2,"y":12,"v":0.5},{"x":3,"y":12,"v":0.5},{"x":4,"y":12,"v":0.5},{"x":5,"y":12,"v":0.4},{"x":6,"y":12,"v":0.3},{"x":7,"y":12,"v":0.3},{"x":8,"y":12,"v":0.4},{"x":9,"y":12,"v":0.2},{"x":12,"y":12,"v":0.25},
{"x":-6,"y":11,"v":0.15},{"x":-5,"y":11,"v":0.2},{"x":-4,"y":11,"v":0.2},{"x":-3,"y":11,"v":0.2},{"x":-2,"y":11,"v":0.25},{"x":-1,"y":11,"v":0.3},{"x":0,"y":11,"v":0.3},{"x":1,"y":11,"v":0.5},{"x":2,"y":11,"v":0.75},{"x":3,"y":11,"v":0.75},{"x":4,"y":11,"v":0.75},{"x":5,"y":11,"v":0.75},{"x":6,"y":11,"v":0.45},{"x":7,"y":11,"v":0.45},{"x":8,"y":11,"v":0.4},{"x":9,"y":11,"v":0.3},{"x":10,"y":11,"v":0.4},{"x":11,"y":11,"v":0.25},{"x":12,"y":11,"v":0.45},
{"x":-5,"y":10,"v":0.15},{"x":-3,"y":10,"v":0.2},{"x":-2,"y":10,"v":0.3},{"x":-1,"y":10,"v":0.4},{"x":0,"y":10,"v":0.4},{"x":1,"y":10,"v":0.95},{"x":2,"y":10,"v":0.9},{"x":3,"y":10,"v":1.0},{"x":4,"y":10,"v":1.1},{"x":5,"y":10,"v":1.15},{"x":6,"y":10,"v":0.8},{"x":7,"y":10,"v":0.55},{"x":8,"y":10,"v":0.8},{"x":9,"y":10,"v":0.45},{"x":10,"y":10,"v":0.35},{"x":11,"y":10,"v":0.15},{"x":12,"y":10,"v":0.25},
{"x":-8,"y":9,"v":0.15},{"x":-7,"y":9,"v":0.15},{"x":-5,"y":9,"v":0.2},{"x":-4,"y":9,"v":0.25},{"x":-3,"y":9,"v":0.5},{"x":-2,"y":9,"v":0.8},{"x":-1,"y":9,"v":0.65},{"x":0,"y":9,"v":1.2},{"x":1,"y":9,"v":1.1},{"x":2,"y":9,"v":1.6},{"x":3,"y":9,"v":1.2},{"x":4,"y":9,"v":1.2},{"x":5,"y":9,"v":1.75},{"x":6,"y":9,"v":1.55},{"x":7,"y":9,"v":0.95},{"x":8,"y":9,"v":0.85},{"x":9,"y":9,"v":0.7},{"x":10,"y":9,"v":0.7},{"x":11,"y":9,"v":0.55},{"x":12,"y":9,"v":0.3},
{"x":-9,"y":8,"v":0.15},{"x":-7,"y":8,"v":0.2},{"x":-6,"y":8,"v":0.2},{"x":-5,"y":8,"v":0.3},{"x":-4,"y":8,"v":0.45},{"x":-3,"y":8,"v":0.55},{"x":-2,"y":8,"v":1.05},{"x":-1,"y":8,"v":0.8},{"x":0,"y":8,"v":1.25},{"x":1,"y":8,"v":1.05},{"x":2,"y":8,"v":1.1},{"x":3,"y":8,"v":1.3},{"x":4,"y":8,"v":1.85},{"x":5,"y":8,"v":1.85},{"x":6,"y":8,"v":1.6},{"x":7,"y":8,"v":1.85},{"x":8,"y":8,"v":1.5},{"x":9,"y":8,"v":1.0},{"x":10,"y":8,"v":0.75},{"x":11,"y":8,"v":0.5},{"x":12,"y":8,"v":0.35},
{"x":-10,"y":7,"v":0.2},{"x":-9,"y":7,"v":0.2},{"x":-8,"y":7,"v":0.2},{"x":-7,"y":7,"v":0.3},{"x":-6,"y":7,"v":0.3},{"x":-5,"y":7,"v":0.7},{"x":-4,"y":7,"v":0.85},{"x":-3,"y":7,"v":1.7},{"x":-2,"y":7,"v":1.6},{"x":-1,"y":7,"v":2.1},{"x":0,"y":7,"v":3.0},{"x":1,"y":7,"v":3.2},{"x":2,"y":7,"v":2.7},{"x":3,"y":7,"v":2.3},{"x":4,"y":7,"v":2.4},{"x":5,"y":7,"v":2.1},{"x":6,"y":7,"v":1.6},{"x":7,"y":7,"v":1.85},{"x":8,"y":7,"v":1.3},{"x":9,"y":7,"v":0.7},{"x":10,"y":7,"v":0.7},{"x":11,"y":7,"v":0.45},{"x":12,"y":7,"v":0.35},
{"x":-9,"y":6,"v":0.25},{"x":-8,"y":6,"v":0.35},{"x":-7,"y":6,"v":0.45},{"x":-6,"y":6,"v":0.8},{"x":-5,"y":6,"v":1.0},{"x":-4,"y":6,"v":0.9},{"x":-3,"y":6,"v":1.55},{"x":-2,"y":6,"v":2.1},{"x":-1,"y":6,"v":2.6},{"x":0,"y":6,"v":2.45},{"x":1,"y":6,"v":4.15},{"x":2,"y":6,"v":3.6},{"x":3,"y":6,"v":4.4},{"x":4,"y":6,"v":3.85},{"x":5,"y":6,"v":2.65},{"x":6,"y":6,"v":3.4},{"x":7,"y":6,"v":2.5},{"x":8,"y":6,"v":1.35},{"x":9,"y":6,"v":1.2},{"x":10,"y":6,"v":1.1},{"x":11,"y":6,"v":0.6},{"x":12,"y":6,"v":0.5},
{"x":-9,"y":5,"v":0.35},{"x":-8,"y":5,"v":0.4},{"x":-7,"y":5,"v":0.5},{"x":-6,"y":5,"v":0.75},{"x":-5,"y":5,"v":1.3},{"x":-4,"y":5,"v":1.05},{"x":-3,"y":5,"v":2.3},{"x":-2,"y":5,"v":3.45},{"x":-1,"y":5,"v":3.45},{"x":0,"y":5,"v":3.15},{"x":1,"y":5,"v":3.85},{"x":2,"y":5,"v":4.55},{"x":3,"y":5,"v":4.2},{"x":4,"y":5,"v":4.55},{"x":5,"y":5,"v":2.65},{"x":6,"y":5,"v":2.45},{"x":7,"y":5,"v":2.65},{"x":8,"y":5,"v":1.85},{"x":9,"y":5,"v":1.95},{"x":10,"y":5,"v":1.25},{"x":11,"y":5,"v":0.7},{"x":12,"y":5,"v":0.5},
{"x":-10,"y":4,"v":0.25},{"x":-9,"y":4,"v":0.55},{"x":-8,"y":4,"v":0.8},{"x":-7,"y":4,"v":0.8},{"x":-6,"y":4,"v":1.05},{"x":-5,"y":4,"v":1.5},{"x":-4,"y":4,"v":2.4},{"x":-3,"y":4,"v":2.5},{"x":-2,"y":4,"v":3.65},{"x":-1,"y":4,"v":3.4},{"x":0,"y":4,"v":4.5},{"x":1,"y":4,"v":4.5},{"x":2,"y":4,"v":3.55},{"x":3,"y":4,"v":4.6},{"x":4,"y":4,"v":4.0},{"x":5,"y":4,"v":3.0},{"x":6,"y":4,"v":3.0},{"x":7,"y":4,"v":2.95},{"x":8,"y":4,"v":2.55},{"x":9,"y":4,"v":2.55},{"x":10,"y":4,"v":0.75},{"x":11,"y":4,"v":0.4},{"x":12,"y":4,"v":0.3},
{"x":-10,"y":3,"v":0.35},{"x":-9,"y":3,"v":0.7},{"x":-8,"y":3,"v":0.85},{"x":-7,"y":3,"v":0.6},{"x":-6,"y":3,"v":1.35},{"x":-5,"y":3,"v":2.2},{"x":-4,"y":3,"v":3.05},{"x":-3,"y":3,"v":2.85},{"x":-2,"y":3,"v":4.2},{"x":-1,"y":3,"v":6.0},{"x":0,"y":3,"v":5.35},{"x":1,"y":3,"v":6.05},{"x":2,"y":3,"v":4.65},{"x":3,"y":3,"v":4.0},{"x":4,"y":3,"v":5.1},{"x":5,"y":3,"v":4.2},{"x":6,"y":3,"v":3.25},{"x":7,"y":3,"v":2.85},{"x":8,"y":3,"v":1.8},{"x":9,"y":3,"v":1.1},{"x":10,"y":3,"v":0.65},{"x":11,"y":3,"v":0.45},{"x":12,"y":3,"v":0.7},
{"x":-11,"y":2,"v":0.2},{"x":-10,"y":2,"v":0.4},{"x":-9,"y":2,"v":0.7},{"x":-8,"y":2,"v":1.15},{"x":-7,"y":2,"v":1.0},{"x":-6,"y":2,"v":1.95},{"x":-5,"y":2,"v":2.75},{"x":-4,"y":2,"v":4.15},{"x":-3,"y":2,"v":3.1},{"x":-2,"y":2,"v":5.65},{"x":-1,"y":2,"v":6.5},{"x":0,"y":2,"v":5.15},{"x":1,"y":2,"v":6.5},{"x":2,"y":2,"v":6.5},{"x":3,"y":2,"v":5.4},{"x":4,"y":2,"v":5.7},{"x":5,"y":2,"v":4.55},{"x":6,"y":2,"v":3.5},{"x":7,"y":2,"v":1.95},{"x":8,"y":2,"v":1.7},{"x":9,"y":2,"v":1.35},{"x":10,"y":2,"v":1.25},{"x":11,"y":2,"v":0.5},{"x":12,"y":2,"v":0.5},
{"x":-12,"y":1,"v":0.3},{"x":-11,"y":1,"v":0.35},{"x":-10,"y":1,"v":0.7},{"x":-9,"y":1,"v":0.85},{"x":-8,"y":1,"v":1.7},{"x":-7,"y":1,"v":2.35},{"x":-6,"y":1,"v":2.55},{"x":-5,"y":1,"v":2.85},{"x":-4,"y":1,"v":5.75},{"x":-3,"y":1,"v":3.6},{"x":-2,"y":1,"v":6.5},{"x":-1,"y":1,"v":5.3},{"x":0,"y":1,"v":6.5},{"x":1,"y":1,"v":5.4},{"x":2,"y":1,"v":6.15},{"x":3,"y":1,"v":6.0},{"x":4,"y":1,"v":4.3},{"x":5,"y":1,"v":4.0},{"x":6,"y":1,"v":1.95},{"x":7,"y":1,"v":2.8},{"x":8,"y":1,"v":1.4},{"x":9,"y":1,"v":1.05},{"x":10,"y":1,"v":0.75},{"x":11,"y":1,"v":0.5},{"x":12,"y":1,"v":0.4},
{"x":-12,"y":0,"v":0.3},{"x":-11,"y":0,"v":0.45},{"x":-10,"y":0,"v":0.65},{"x":-9,"y":0,"v":1.1},{"x":-8,"y":0,"v":1.15},{"x":-7,"y":0,"v":1.7},{"x":-6,"y":0,"v":2.6},{"x":-5,"y":0,"v":2.3},{"x":-4,"y":0,"v":4.3},{"x":-3,"y":0,"v":5.6},{"x":-2,"y":0,"v":6.5},{"x":-1,"y":0,"v":6.2},{"x":0,"y":0,"v":6.15},{"x":1,"y":0,"v":6.15},{"x":2,"y":0,"v":4.25},{"x":3,"y":0,"v":5.1},{"x":4,"y":0,"v":4.45},{"x":5,"y":0,"v":3.4},{"x":6,"y":0,"v":3.4},{"x":7,"y":0,"v":2.2},{"x":8,"y":0,"v":1.8},{"x":9,"y":0,"v":0.8},{"x":10,"y":0,"v":0.55},{"x":11,"y":0,"v":0.45},{"x":12,"y":0,"v":0.35},
{"x":-12,"y":-1,"v":0.5},{"x":-11,"y":-1,"v":0.4},{"x":-10,"y":-1,"v":0.75},{"x":-9,"y":-1,"v":1.4},{"x":-8,"y":-1,"v":2.2},{"x":-7,"y":-1,"v":2.4},{"x":-6,"y":-1,"v":2.5},{"x":-5,"y":-1,"v":4.15},{"x":-4,"y":-1,"v":5.0},{"x":-3,"y":-1,"v":6.15},{"x":-2,"y":-1,"v":6.25},{"x":-1,"y":-1,"v":6.45},{"x":0,"y":-1,"v":6.45},{"x":1,"y":-1,"v":5.3},{"x":2,"y":-1,"v":4.5},{"x":3,"y":-1,"v":6.0},{"x":4,"y":-1,"v":4.3},{"x":5,"y":-1,"v":3.6},{"x":6,"y":-1,"v":2.2},{"x":7,"y":-1,"v":2.6},{"x":8,"y":-1,"v":1.75},{"x":9,"y":-1,"v":0.8},{"x":10,"y":-1,"v":0.45},{"x":11,"y":-1,"v":0.4},{"x":12,"y":-1,"v":0.35},
{"x":-12,"y":-2,"v":0.7},{"x":-11,"y":-2,"v":0.65},{"x":-10,"y":-2,"v":1.0},{"x":-9,"y":-2,"v":1.25},{"x":-8,"y":-2,"v":1.45},{"x":-7,"y":-2,"v":2.3},{"x":-6,"y":-2,"v":3.65},{"x":-5,"y":-2,"v":4.7},{"x":-4,"y":-2,"v":4.0},{"x":-3,"y":-2,"v":4.6},{"x":-2,"y":-2,"v":5.2},{"x":-1,"y":-2,"v":6.45},{"x":0,"y":-2,"v":5.95},{"x":1,"y":-2,"v":4.9},{"x":2,"y":-2,"v":4.55},{"x":3,"y":-2,"v":6.2},{"x":4,"y":-2,"v":3.15},{"x":5,"y":-2,"v":2.75},{"x":6,"y":-2,"v":2.3},{"x":7,"y":-2,"v":1.35},{"x":8,"y":-2,"v":0.75},{"x":9,"y":-2,"v":0.4},{"x":10,"y":-2,"v":0.35},{"x":11,"y":-2,"v":0.3},{"x":12,"y":-2,"v":0.35},
{"x":-12,"y":-3,"v":0.55},{"x":-11,"y":-3,"v":0.75},{"x":-10,"y":-3,"v":0.75},{"x":-9,"y":-3,"v":1.75},{"x":-8,"y":-3,"v":2.4},{"x":-7,"y":-3,"v":2.55},{"x":-6,"y":-3,"v":3.45},{"x":-5,"y":-3,"v":4.3},{"x":-4,"y":-3,"v":4.2},{"x":-3,"y":-3,"v":5.9},{"x":-2,"y":-3,"v":4.9},{"x":-1,"y":-3,"v":4.65},{"x":0,"y":-3,"v":4.85},{"x":1,"y":-3,"v":5.3},{"x":2,"y":-3,"v":5.2},{"x":3,"y":-3,"v":3.5},{"x":4,"y":-3,"v":2.7},{"x":5,"y":-3,"v":2.4},{"x":6,"y":-3,"v":1.9},{"x":7,"y":-3,"v":1.25},{"x":8,"y":-3,"v":0.75},{"x":9,"y":-3,"v":0.4},{"x":10,"y":-3,"v":0.3},{"x":11,"y":-3,"v":0.3},{"x":12,"y":-3,"v":0.4},
{"x":-12,"y":-4,"v":0.5},{"x":-11,"y":-4,"v":0.5},{"x":-10,"y":-4,"v":0.6},{"x":-9,"y":-4,"v":1.25},{"x":-8,"y":-4,"v":2.5},{"x":-7,"y":-4,"v":2.75},{"x":-6,"y":-4,"v":2.75},{"x":-5,"y":-4,"v":3.6},{"x":-4,"y":-4,"v":3.8},{"x":-3,"y":-4,"v":4.8},{"x":-2,"y":-4,"v":4.8},{"x":-1,"y":-4,"v":4.6},{"x":0,"y":-4,"v":2.8},{"x":1,"y":-4,"v":4.75},{"x":2,"y":-4,"v":3.75},{"x":3,"y":-4,"v":2.25},{"x":4,"y":-4,"v":2.1},{"x":5,"y":-4,"v":1.85},{"x":6,"y":-4,"v":1.1},{"x":7,"y":-4,"v":0.6},{"x":8,"y":-4,"v":0.6},{"x":9,"y":-4,"v":0.4},{"x":10,"y":-4,"v":0.2},{"x":11,"y":-4,"v":0.25},{"x":12,"y":-4,"v":0.4},
{"x":-12,"y":-5,"v":0.4},{"x":-11,"y":-5,"v":0.6},{"x":-10,"y":-5,"v":1.0},{"x":-9,"y":-5,"v":1.05},{"x":-8,"y":-5,"v":1.65},{"x":-7,"y":-5,"v":2.9},{"x":-6,"y":-5,"v":3.65},{"x":-5,"y":-5,"v":3.5},{"x":-4,"y":-5,"v":4.25},{"x":-3,"y":-5,"v":5.1},{"x":-2,"y":-5,"v":3.65},{"x":-1,"y":-5,"v":5.2},{"x":0,"y":-5,"v":4.2},{"x":1,"y":-5,"v":3.2},{"x":2,"y":-5,"v":2.6},{"x":3,"y":-5,"v":2.8},{"x":4,"y":-5,"v":1.4},{"x":5,"y":-5,"v":1.75},{"x":6,"y":-5,"v":1.0},{"x":7,"y":-5,"v":0.65},{"x":8,"y":-5,"v":0.45},{"x":9,"y":-5,"v":0.25},{"x":10,"y":-5,"v":0.15},{"x":12,"y":-5,"v":0.2},
{"x":-12,"y":-6,"v":0.35},{"x":-11,"y":-6,"v":0.5},{"x":-10,"y":-6,"v":0.75},{"x":-9,"y":-6,"v":1.1},{"x":-8,"y":-6,"v":2.0},{"x":-7,"y":-6,"v":2.15},{"x":-6,"y":-6,"v":2.0},{"x":-5,"y":-6,"v":2.85},{"x":-4,"y":-6,"v":3.15},{"x":-3,"y":-6,"v":3.2},{"x":-2,"y":-6,"v":2.35},{"x":-1,"y":-6,"v":2.15},{"x":0,"y":-6,"v":3.45},{"x":1,"y":-6,"v":2.4},{"x":2,"y":-6,"v":2.0},{"x":3,"y":-6,"v":1.3},{"x":4,"y":-6,"v":0.75},{"x":5,"y":-6,"v":0.7},{"x":6,"y":-6,"v":0.65},{"x":7,"y":-6,"v":0.35},{"x":8,"y":-6,"v":0.3},{"x":9,"y":-6,"v":0.2},{"x":10,"y":-6,"v":0.15},
{"x":-12,"y":-7,"v":0.35},{"x":-11,"y":-7,"v":0.45},{"x":-10,"y":-7,"v":0.6},{"x":-9,"y":-7,"v":1.4},{"x":-8,"y":-7,"v":1.4},{"x":-7,"y":-7,"v":1.75},{"x":-6,"y":-7,"v":2.4},{"x":-5,"y":-7,"v":2.4},{"x":-4,"y":-7,"v":2.75},{"x":-3,"y":-7,"v":2.85},{"x":-2,"y":-7,"v":2.5},{"x":-1,"y":-7,"v":2.15},{"x":0,"y":-7,"v":2.2},{"x":1,"y":-7,"v":2.5},{"x":2,"y":-7,"v":1.1},{"x":3,"y":-7,"v":0.85},{"x":4,"y":-7,"v":1.0},{"x":5,"y":-7,"v":0.45},{"x":6,"y":-7,"v":0.25},{"x":7,"y":-7,"v":0.25},{"x":8,"y":-7,"v":0.2},{"x":9,"y":-7,"v":0.15},
{"x":-12,"y":-8,"v":0.3},{"x":-11,"y":-8,"v":0.3},{"x":-10,"y":-8,"v":0.55},{"x":-9,"y":-8,"v":1.05},{"x":-8,"y":-8,"v":1.2},{"x":-7,"y":-8,"v":1.05},{"x":-6,"y":-8,"v":1.65},{"x":-5,"y":-8,"v":1.65},{"x":-4,"y":-8,"v":1.4},{"x":-3,"y":-8,"v":2.2},{"x":-2,"y":-8,"v":1.9},{"x":-1,"y":-8,"v":2.15},{"x":0,"y":-8,"v":1.0},{"x":1,"y":-8,"v":1.5},{"x":2,"y":-8,"v":1.3},{"x":3,"y":-8,"v":0.65},{"x":4,"y":-8,"v":0.5},{"x":5,"y":-8,"v":0.45},{"x":6,"y":-8,"v":0.3},{"x":7,"y":-8,"v":0.25},{"x":8,"y":-8,"v":0.2},{"x":9,"y":-8,"v":0.15},
{"x":-12,"y":-9,"v":0.3},{"x":-11,"y":-9,"v":0.25},{"x":-10,"y":-9,"v":0.55},{"x":-9,"y":-9,"v":0.85},{"x":-8,"y":-9,"v":0.65},{"x":-7,"y":-9,"v":1.05},{"x":-6,"y":-9,"v":1.15},{"x":-5,"y":-9,"v":1.8},{"x":-4,"y":-9,"v":1.3},{"x":-3,"y":-9,"v":1.15},{"x":-2,"y":-9,"v":1.05},{"x":-1,"y":-9,"v":1.0},{"x":0,"y":-9,"v":1.0},{"x":1,"y":-9,"v":1.3},{"x":2,"y":-9,"v":0.8},{"x":3,"y":-9,"v":0.45},{"x":4,"y":-9,"v":0.35},{"x":5,"y":-9,"v":0.2},
{"x":-12,"y":-10,"v":0.2},{"x":-11,"y":-10,"v":0.2},{"x":-10,"y":-10,"v":0.45},{"x":-9,"y":-10,"v":0.55},{"x":-8,"y":-10,"v":0.95},{"x":-7,"y":-10,"v":0.95},{"x":-6,"y":-10,"v":1.2},{"x":-5,"y":-10,"v":0.8},{"x":-4,"y":-10,"v":1.15},{"x":-3,"y":-10,"v":0.75},{"x":-2,"y":-10,"v":0.95},{"x":-1,"y":-10,"v":1.05},{"x":0,"y":-10,"v":0.9},{"x":1,"y":-10,"v":0.75},{"x":2,"y":-10,"v":0.25},{"x":3,"y":-10,"v":0.3},{"x":4,"y":-10,"v":0.2},{"x":5,"y":-10,"v":0.15},
{"x":-12,"y":-11,"v":0.4},{"x":-11,"y":-11,"v":0.3},{"x":-10,"y":-11,"v":0.3},{"x":-9,"y":-11,"v":0.45},{"x":-8,"y":-11,"v":0.45},{"x":-7,"y":-11,"v":0.6},{"x":-6,"y":-11,"v":0.7},{"x":-5,"y":-11,"v":0.65},{"x":-4,"y":-11,"v":0.65},{"x":-3,"y":-11,"v":0.5},{"x":-2,"y":-11,"v":0.55},{"x":-1,"y":-11,"v":0.75},{"x":0,"y":-11,"v":0.35},{"x":1,"y":-11,"v":0.3},{"x":2,"y":-11,"v":0.2},{"x":3,"y":-11,"v":0.2},{"x":4,"y":-11,"v":0.25},
{"x":-12,"y":-12,"v":0.35},{"x":-11,"y":-12,"v":0.2},{"x":-10,"y":-12,"v":0.3},{"x":-9,"y":-12,"v":0.3},{"x":-8,"y":-12,"v":0.5},{"x":-7,"y":-12,"v":0.35},{"x":-6,"y":-12,"v":0.35},{"x":-5,"y":-12,"v":0.45},{"x":-4,"y":-12,"v":0.45},{"x":-3,"y":-12,"v":0.4},{"x":-2,"y":-12,"v":0.45},{"x":-1,"y":-12,"v":0.45},{"x":0,"y":-12,"v":0.25},{"x":1,"y":-12,"v":0.25},{"x":2,"y":-12,"v":0.15},{"x":3,"y":-12,"v":0.15},
{"x":-12,"y":-13,"v":0.3},{"x":-11,"y":-13,"v":0.15},{"x":-10,"y":-13,"v":0.2},{"x":-9,"y":-13,"v":0.2},{"x":-8,"y":-13,"v":0.2},{"x":-7,"y":-13,"v":0.2},{"x":-6,"y":-13,"v":0.2},{"x":-5,"y":-13,"v":0.2},{"x":-4,"y":-13,"v":0.2},{"x":-3,"y":-13,"v":0.2},{"x":-1,"y":-13,"v":0.25},{"x":0,"y":-13,"v":0.2},{"x":1,"y":-13,"v":0.2},{"x":2,"y":-13,"v":0.15},{"x":4,"y":-13,"v":0.2},
{"x":-12,"y":-14,"v":0.25},{"x":-10,"y":-14,"v":0.2},{"x":-9,"y":-14,"v":0.2},{"x":-8,"y":-14,"v":0.2},{"x":-7,"y":-14,"v":0.2},{"x":-6,"y":-14,"v":0.2},{"x":-5,"y":-14,"v":0.2},{"x":-4,"y":-14,"v":0.2},{"x":-3,"y":-14,"v":0.2},{"x":-2,"y":-14,"v":0.2},{"x":-1,"y":-14,"v":0.2},{"x":0,"y":-14,"v":0.15},
{"x":-12,"y":-15,"v":0.4},{"x":-11,"y":-15,"v":0.3},{"x":-10,"y":-15,"v":0.35},{"x":-9,"y":-15,"v":0.2},{"x":-8,"y":-15,"v":0.2},{"x":-7,"y":-15,"v":0.2},{"x":-6,"y":-15,"v":0.2},{"x":-5,"y":-15,"v":0.2},{"x":-4,"y":-15,"v":0.3},{"x":-3,"y":-15,"v":0.3},{"x":-2,"y":-15,"v":0.2},{"x":4,"y":-15,"v":0.3},{"x":12,"y":-15,"v":0.2}],
"e":[{"x":-7,"y":14,"v":0.15},{"x":-6,"y":14,"v":0.15},{"x":-5,"y":14,"v":0.15},{"x":-4,"y":14,"v":0.15},{"x":-2,"y":14,"v":0.15},{"x":-1,"y":14,"v":0.15},{"x":0,"y":14,"v":0.15},{"x":1,"y":14,"v":0.2},{"x":2,"y":14,"v":0.2},{"x":3,"y":14,"v":0.2},{"x":4,"y":14,"v":0.2},{"x":5,"y":14,"v":0.2},{"x":6,"y":14,"v":0.2},{"x":7,"y":14,"v":0.2},{"x":1,"y":13,"v":0.2},{"x":2,"y":13,"v":0.3},{"x":3,"y":13,"v":0.3},{"x":4,"y":13,"v":0.3},{"x":5,"y":13,"v":0.2},{"x":6,"y":13,"v":0.2},{"x":7,"y":13,"v":0.2},{"x":8,"y":13,"v":0.2},
{"x":-5,"y":12,"v":0.15},{"x":-4,"y":12,"v":0.15},{"x":-3,"y":12,"v":0.15},{"x":-2,"y":12,"v":0.15},{"x":-1,"y":12,"v":0.15},{"x":0,"y":12,"v":0.2},{"x":1,"y":12,"v":0.25},{"x":2,"y":12,"v":0.35},{"x":3,"y":12,"v":0.35},{"x":4,"y":12,"v":0.35},{"x":5,"y":12,"v":0.35},{"x":6,"y":12,"v":0.3},{"x":7,"y":12,"v":0.3},{"x":8,"y":12,"v":0.2},{"x":9,"y":12,"v":0.2},
{"x":-6,"y":11,"v":0.15},{"x":-5,"y":11,"v":0.15},{"x":-4,"y":11,"v":0.15},{"x":-3,"y":11,"v":0.15},{"x":-2,"y":11,"v":0.15},{"x":-1,"y":11,"v":0.2},{"x":0,"y":11,"v":0.35},{"x":1,"y":11,"v":0.5},{"x":2,"y":11,"v":0.6},{"x":3,"y":11,"v":0.75},{"x":4,"y":11,"v":0.75},{"x":5,"y":11,"v":0.65},{"x":6,"y":11,"v":0.5},{"x":7,"y":11,"v":0.4},{"x":8,"y":11,"v":0.25},{"x":9,"y":11,"v":0.25},{"x":10,"y":11,"v":0.2},
{"x":-6,"y":10,"v":0.15},{"x":-5,"y":10,"v":0.15},{"x":-4,"y":10,"v":0.15},{"x":-3,"y":10,"v":0.2},{"x":-2,"y":10,"v":0.3},{"x":-1,"y":10,"v":0.4},{"x":0,"y":10,"v":0.65},{"x":1,"y":10,"v":0.85},{"x":2,"y":10,"v":0.95},{"x":3,"y":10,"v":0.95},{"x":4,"y":10,"v":1.1},{"x":5,"y":10,"v":1.1},{"x":6,"y":10,"v":0.9},{"x":7,"y":10,"v":0.75},{"x":8,"y":10,"v":0.5},{"x":9,"y":10,"v":0.5},{"x":10,"y":10,"v":0.35},{"x":11,"y":10,"v":0.2},{"x":12,"y":10,"v":0.15},
{"x":-7,"y":9,"v":0.15},{"x":-6,"y":9,"v":0.15},{"x":-5,"y":9,"v":0.2},{"x":-4,"y":9,"v":0.3},{"x":-3,"y":9,"v":0.45},{"x":-2,"y":9,"v":0.6},{"x":-1,"y":9,"v":0.75},{"x":0,"y":9,"v":0.85},{"x":1,"y":9,"v":1.05},{"x":2,"y":9,"v":1.15},{"x":3,"y":9,"v":1.25},{"x":4,"y":9,"v":1.35},{"x":5,"y":9,"v":1.45},{"x":6,"y":9,"v":1.25},{"x":7,"y":9,"v":1.1},{"x":8,"y":9,"v":0.9},{"x":9,"y":9,"v":0.75},{"x":10,"y":9,"v":0.55},{"x":11,"y":9,"v":0.35},{"x":12,"y":9,"v":0.2},
{"x":-11,"y":8,"v":0.15},{"x":-9,"y":8,"v":0.2},{"x":-8,"y":8,"v":0.2},{"x":-7,"y":8,"v":0.2},{"x":-6,"y":8,"v":0.25},{"x":-5,"y":8,"v":0.35},{"x":-4,"y":8,"v":0.65},{"x":-3,"y":8,"v":0.85},{"x":-2,"y":8,"v":1.05},{"x":-1,"y":8,"v":1.35},{"x":0,"y":8,"v":1.6},{"x":1,"y":8,"v":1.85},{"x":2,"y":8,"v":1.75},{"x":3,"y":8,"v":1.75},{"x":4,"y":8,"v":1.75},{"x":5,"y":8,"v":1.7},{"x":6,"y":8,"v":1.5},{"x":7,"y":8,"v":1.3},{"x":8,"y":8,"v":1.1},{"x":9,"y":8,"v":0.9},{"x":10,"y":8,"v":0.65},{"x":11,"y":8,"v":0.45},{"x":12,"y":8,"v":0.3},
{"x":-11,"y":7,"v":0.15},{"x":-10,"y":7,"v":0.15},{"x":-9,"y":7,"v":0.25},{"x":-8,"y":7,"v":0.25},{"x":-7,"y":7,"v":0.35},{"x":-6,"y":7,"v":0.45},{"x":-5,"y":7,"v":0.65},{"x":-4,"y":7,"v":0.95},{"x":-3,"y":7,"v":1.2},{"x":-2,"y":7,"v":1.55},{"x":-1,"y":7,"v":1.95},{"x":0,"y":7,"v":2.4},{"x":1,"y":7,"v":2.6},{"x":2,"y":7,"v":2.7},{"x":3,"y":7,"v":2.7},{"x":4,"y":7,"v":2.5},{"x":5,"y":7,"v":2.4},{"x":6,"y":7,"v":2.2},{"x":7,"y":7,"v":1.8},{"x":8,"y":7,"v":1.55},{"x":9,"y":7,"v":1.1},{"x":10,"y":7,"v":0.85},{"x":11,"y":7,"v":0.7},{"x":12,"y":7,"v":0.35},
{"x":-11,"y":6,"v":0.2},{"x":-10,"y":6,"v":0.2},{"x":-9,"y":6,"v":0.2},{"x":-8,"y":6,"v":0.3},{"x":-7,"y":6,"v":0.45},{"x":-6,"y":6,"v":0.7},{"x":-5,"y":6,"v":0.8},{"x":-4,"y":6,"v":1.15},{"x":-3,"y":6,"v":1.75},{"x":-2,"y":6,"v":2.4},{"x":-1,"y":6,"v":2.65},{"x":0,"y":6,"v":3.05},{"x":1,"y":6,"v":3.5},{"x":2,"y":6,"v":3.75},{"x":3,"y":6,"v":3.6},{"x":4,"y":6,"v":3.15},{"x":5,"y":6,"v":2.85},{"x":6,"y":6,"v":2.35},{"x":7,"y":6,"v":2.1},{"x":8,"y":6,"v":1.7},{"x":9,"y":6,"v":1.25},{"x":10,"y":6,"v":0.95},{"x":11,"y":6,"v":0.75},{"x":12,"y":6,"v":0.35},
{"x":-11,"y":5,"v":0.2},{"x":-10,"y":5,"v":0.2},{"x":-9,"y":5,"v":0.35},{"x":-8,"y":5,"v":0.5},{"x":-7,"y":5,"v":0.7},{"x":-6,"y":5,"v":0.9},{"x":-5,"y":5,"v":1.15},{"x":-4,"y":5,"v":1.65},{"x":-3,"y":5,"v":2.25},{"x":-2,"y":5,"v":2.85},{"x":-1,"y":5,"v":3.3},{"x":0,"y":5,"v":3.7},{"x":1,"y":5,"v":3.9},{"x":2,"y":5,"v":4.3},{"x":3,"y":5,"v":4.3},{"x":4,"y":5,"v":3.8},{"x":5,"y":5,"v":3.4},{"x":6,"y":5,"v":2.9},{"x":7,"y":5,"v":2.55},{"x":8,"y":5,"v":2.15},{"x":9,"y":5,"v":1.6},{"x":10,"y":5,"v":1.25},{"x":11,"y":5,"v":0.75},{"x":12,"y":5,"v":0.35},
{"x":-11,"y":4,"v":0.2},{"x":-10,"y":4,"v":0.3},{"x":-9,"y":4,"v":0.5},{"x":-8,"y":4,"v":0.65},{"x":-7,"y":4,"v":0.85},{"x":-6,"y":4,"v":1.15},{"x":-5,"y":4,"v":1.6},{"x":-4,"y":4,"v":2.25},{"x":-3,"y":4,"v":2.8},{"x":-2,"y":4,"v":3.6},{"x":-1,"y":4,"v":4.2},{"x":0,"y":4,"v":4.55},{"x":1,"y":4,"v":4.55},{"x":2,"y":4,"v":4.55},{"x":3,"y":4,"v":4.4},{"x":4,"y":4,"v":4.0},{"x":5,"y":4,"v":3.65},{"x":6,"y":4,"v":3.1},{"x":7,"y":4,"v":2.55},{"x":8,"y":4,"v":2.35},{"x":9,"y":4,"v":1.65},{"x":10,"y":4,"v":1.15},{"x":11,"y":4,"v":0.75},{"x":12,"y":4,"v":0.35},
{"x":-11,"y":3,"v":0.2},{"x":-10,"y":3,"v":0.35},{"x":-9,"y":3,"v":0.75},{"x":-8,"y":3,"v":0.8},{"x":-7,"y":3,"v":1.15},{"x":-6,"y":3,"v":1.5},{"x":-5,"y":3,"v":2.4},{"x":-4,"y":3,"v":2.75},{"x":-3,"y":3,"v":3.65},{"x":-2,"y":3,"v":4.25},{"x":-1,"y":3,"v":4.95},{"x":0,"y":3,"v":5.4},{"x":1,"y":3,"v":5.25},{"x":2,"y":3,"v":5.25},{"x":3,"y":3,"v":4.95},{"x":4,"y":3,"v":4.6},{"x":5,"y":3,"v":4.1},{"x":6,"y":3,"v":3.45},{"x":7,"y":3,"v":2.65},{"x":8,"y":3,"v":2.2},{"x":9,"y":3,"v":1.5},{"x":10,"y":3,"v":1.1},{"x":11,"y":3,"v":0.75},{"x":12,"y":3,"v":0.35},
{"x":-11,"y":2,"v":0.3},{"x":-10,"y":2,"v":0.4},{"x":-9,"y":2,"v":0.85},{"x":-8,"y":2,"v":1.1},{"x":-7,"y":2,"v":1.45},{"x":-6,"y":2,"v":1.95},{"x":-5,"y":2,"v":2.95},{"x":-4,"y":2,"v":3.35},{"x":-3,"y":2,"v":4.45},{"x":-2,"y":2,"v":5.05},{"x":-1,"y":2,"v":5.85},{"x":0,"y":2,"v":5.95},{"x":1,"y":2,"v":6.1},{"x":2,"y":2,"v":5.85},{"x":3,"y":2,"v":5.45},{"x":4,"y":2,"v":5.0},{"x":5,"y":2,"v":4.1},{"x":6,"y":2,"v":3.35},{"x":7,"y":2,"v":2.35},{"x":8,"y":2,"v":1.85},{"x":9,"y":2,"v":1.3},{"x":10,"y":2,"v":1.0},{"x":11,"y":2,"v":0.7},{"x":12,"y":2,"v":0.35},
{"x":-12,"y":1,"v":0.2},{"x":-11,"y":1,"v":0.35},{"x":-10,"y":1,"v":0.5},{"x":-9,"y":1,"v":1.0},{"x":-8,"y":1,"v":1.25},{"x":-7,"y":1,"v":1.85},{"x":-6,"y":1,"v":2.3},{"x":-5,"y":1,"v":3.25},{"x":-4,"y":1,"v":3.9},{"x":-3,"y":1,"v":4.95},{"x":-2,"y":1,"v":5.6},{"x":-1,"y":1,"v":6.25},{"x":0,"y":1,"v":6.0},{"x":1,"y":1,"v":6.0},{"x":2,"y":1,"v":5.85},{"x":3,"y":1,"v":5.5},{"x":4,"y":1,"v":4.75},{"x":5,"y":1,"v":4.0},{"x":6,"y":1,"v":3.05},{"x":7,"y":1,"v":2.25},{"x":8,"y":1,"v":1.75},{"x":9,"y":1,"v":1.25},{"x":10,"y":1,"v":0.95},{"x":11,"y":1,"v":0.6},{"x":12,"y":1,"v":0.3},
{"x":-12,"y":0,"v":0.25},{"x":-11,"y":0,"v":0.6},{"x":-10,"y":0,"v":0.8},{"x":-9,"y":0,"v":1.2},{"x":-8,"y":0,"v":1.75},{"x":-7,"y":0,"v":2.1},{"x":-6,"y":0,"v":2.65},{"x":-5,"y":0,"v":3.55},{"x":-4,"y":0,"v":4.45},{"x":-3,"y":0,"v":5.65},{"x":-2,"y":0,"v":6.15},{"x":-1,"y":0,"v":6.45},{"x":0,"y":0,"v":6.45},{"x":1,"y":0,"v":5.95},{"x":2,"y":0,"v":5.55},{"x":3,"y":0,"v":5.1},{"x":4,"y":0,"v":4.4},{"x":5,"y":0,"v":3.65},{"x":6,"y":0,"v":2.9},{"x":7,"y":0,"v":2.25},{"x":8,"y":0,"v":1.75},{"x":9,"y":0,"v":1.15},{"x":10,"y":0,"v":0.75},{"x":11,"y":0,"v":0.4},{"x":12,"y":0,"v":0.2},
{"x":-12,"y":-1,"v":0.35},{"x":-11,"y":-1,"v":0.75},{"x":-10,"y":-1,"v":0.95},{"x":-9,"y":-1,"v":1.4},{"x":-8,"y":-1,"v":1.75},{"x":-7,"y":-1,"v":2.35},{"x":-6,"y":-1,"v":3.05},{"x":-5,"y":-1,"v":3.85},{"x":-4,"y":-1,"v":4.4},{"x":-3,"y":-1,"v":5.4},{"x":-2,"y":-1,"v":6.15},{"x":-1,"y":-1,"v":6.4},{"x":0,"y":-1,"v":6.25},{"x":1,"y":-1,"v":5.55},{"x":2,"y":-1,"v":5.25},{"x":3,"y":-1,"v":4.75},{"x":4,"y":-1,"v":4.3},{"x":5,"y":-1,"v":3.45},{"x":6,"y":-1,"v":2.75},{"x":7,"y":-1,"v":2.0},{"x":8,"y":-1,"v":1.3},{"x":9,"y":-1,"v":0.85},{"x":10,"y":-1,"v":0.55},{"x":11,"y":-1,"v":0.35},{"x":12,"y":-1,"v":0.25},
{"x":-12,"y":-2,"v":0.4},{"x":-11,"y":-2,"v":0.8},{"x":-10,"y":-2,"v":1.1},{"x":-9,"y":-2,"v":1.55},{"x":-8,"y":-2,"v":1.95},{"x":-7,"y":-2,"v":2.65},{"x":-6,"y":-2,"v":3.3},{"x":-5,"y":-2,"v":4.0},{"x":-4,"y":-2,"v":4.9},{"x":-3,"y":-2,"v":5.2},{"x":-2,"y":-2,"v":5.85},{"x":-1,"y":-2,"v":6.05},{"x":0,"y":-2,"v":5.9},{"x":1,"y":-2,"v":5.5},{"x":2,"y":-2,"v":5.2},{"x":3,"y":-2,"v":4.5},{"x":4,"y":-2,"v":3.9},{"x":5,"y":-2,"v":2.95},{"x":6,"y":-2,"v":2.25},{"x":7,"y":-2,"v":1.65},{"x":8,"y":-2,"v":1.05},{"x":9,"y":-2,"v":0.75},{"x":10,"y":-2,"v":0.4},{"x":11,"y":-2,"v":0.25},{"x":12,"y":-2,"v":0.2},
{"x":-12,"y":-3,"v":0.45},{"x":-11,"y":-3,"v":0.75},{"x":-10,"y":-3,"v":1.15},{"x":-9,"y":-3,"v":1.55},{"x":-8,"y":-3,"v":2.0},{"x":-7,"y":-3,"v":2.75},{"x":-6,"y":-3,"v":3.3},{"x":-5,"y":-3,"v":3.85},{"x":-4,"y":-3,"v":4.55},{"x":-3,"y":-3,"v":4.8},{"x":-2,"y":-3,"v":5.15},{"x":-1,"y":-3,"v":5.05},{"x":0,"y":-3,"v":5.05},{"x":1,"y":-3,"v":4.8},{"x":2,"y":-3,"v":4.55},{"x":3,"y":-3,"v":3.8},{"x":4,"y":-3,"v":3.1},{"x":5,"y":-3,"v":2.35},{"x":6,"y":-3,"v":1.8},{"x":7,"y":-3,"v":1.15},{"x":8,"y":-3,"v":0.75},{"x":9,"y":-3,"v":0.4},{"x":10,"y":-3,"v":0.25},{"x":11,"y":-3,"v":0.2},{"x":12,"y":-3,"v":0.15},
{"x":-12,"y":-4,"v":0.45},{"x":-11,"y":-4,"v":0.75},{"x":-10,"y":-4,"v":1.15},{"x":-9,"y":-4,"v":1.55},{"x":-8,"y":-4,"v":2.1},{"x":-7,"y":-4,"v":2.7},{"x":-6,"y":-4,"v":3.35},{"x":-5,"y":-4,"v":3.75},{"x":-4,"y":-4,"v":4.55},{"x":-3,"y":-4,"v":4.7},{"x":-2,"y":-4,"v":5.0},{"x":-1,"y":-4,"v":4.5},{"x":0,"y":-4,"v":4.5},{"x":1,"y":-4,"v":4.3},{"x":2,"y":-4,"v":3.85},{"x":3,"y":-4,"v":3.25},{"x":4,"y":-4,"v":2.4},{"x":5,"y":-4,"v":1.85},{"x":6,"y":-4,"v":1.5},{"x":7,"y":-4,"v":1.05},{"x":8,"y":-4,"v":0.65},{"x":9,"y":-4,"v":0.4},{"x":10,"y":-4,"v":0.25},{"x":11,"y":-4,"v":0.15},
{"x":-12,"y":-5,"v":0.3},{"x":-11,"y":-5,"v":0.7},{"x":-10,"y":-5,"v":1.0},{"x":-9,"y":-5,"v":1.35},{"x":-8,"y":-5,"v":2.05},{"x":-7,"y":-5,"v":2.5},{"x":-6,"y":-5,"v":3.0},{"x":-5,"y":-5,"v":3.4},{"x":-4,"y":-5,"v":3.9},{"x":-3,"y":-5,"v":4.05},{"x":-2,"y":-5,"v":4.25},{"x":-1,"y":-5,"v":3.7},{"x":0,"y":-5,"v":3.7},{"x":1,"y":-5,"v":3.3},{"x":2,"y":-5,"v":2.75},{"x":3,"y":-5,"v":2.2},{"x":4,"y":-5,"v":1.65},{"x":5,"y":-5,"v":1.25},{"x":6,"y":-5,"v":0.9},{"x":7,"y":-5,"v":0.65},{"x":8,"y":-5,"v":0.35},{"x":9,"y":-5,"v":0.2},{"x":10,"y":-5,"v":0.15},
{"x":-12,"y":-6,"v":0.3},{"x":-11,"y":-6,"v":0.65},{"x":-10,"y":-6,"v":0.95},{"x":-9,"y":-6,"v":1.25},{"x":-8,"y":-6,"v":1.85},{"x":-7,"y":-6,"v":2.35},{"x":-6,"y":-6,"v":2.75},{"x":-5,"y":-6,"v":3.1},{"x":-4,"y":-6,"v":3.5},{"x":-3,"y":-6,"v":3.5},{"x":-2,"y":-6,"v":3.4},{"x":-1,"y":-6,"v":3.15},{"x":0,"y":-6,"v":3.1},{"x":1,"y":-6,"v":2.7},{"x":2,"y":-6,"v":2.1},{"x":3,"y":-6,"v":1.55},{"x":4,"y":-6,"v":1.15},{"x":5,"y":-6,"v":0.9},{"x":6,"y":-6,"v":0.55},{"x":7,"y":-6,"v":0.35},{"x":8,"y":-6,"v":0.3},{"x":9,"y":-6,"v":0.2},{"x":10,"y":-6,"v":0.15},
{"x":-12,"y":-7,"v":0.25},{"x":-11,"y":-7,"v":0.5},{"x":-10,"y":-7,"v":0.75},{"x":-9,"y":-7,"v":1.1},{"x":-8,"y":-7,"v":1.55},{"x":-7,"y":-7,"v":1.8},{"x":-6,"y":-7,"v":2.2},{"x":-5,"y":-7,"v":2.35},{"x":-4,"y":-7,"v":2.6},{"x":-3,"y":-7,"v":2.65},{"x":-2,"y":-7,"v":2.4},{"x":-1,"y":-7,"v":2.2},{"x":0,"y":-7,"v":2.2},{"x":1,"y":-7,"v":2.0},{"x":2,"y":-7,"v":1.55},{"x":3,"y":-7,"v":1.05},{"x":4,"y":-7,"v":0.75},{"x":5,"y":-7,"v":0.65},{"x":6,"y":-7,"v":0.4},{"x":7,"y":-7,"v":0.2},{"x":8,"y":-7,"v":0.15},
{"x":-12,"y":-8,"v":0.2},{"x":-11,"y":-8,"v":0.4},{"x":-10,"y":-8,"v":0.75},{"x":-9,"y":-8,"v":0.95},{"x":-8,"y":-8,"v":1.2},{"x":-7,"y":-8,"v":1.4},{"x":-6,"y":-8,"v":1.75},{"x":-5,"y":-8,"v":1.9},{"x":-4,"y":-8,"v":2.05},{"x":-3,"y":-8,"v":2.0},{"x":-2,"y":-8,"v":1.9},{"x":-1,"y":-8,"v":1.6},{"x":0,"y":-8,"v":1.55},{"x":1,"y":-8,"v":1.3},{"x":2,"y":-8,"v":1.1},{"x":3,"y":-8,"v":0.75},{"x":4,"y":-8,"v":0.55},{"x":5,"y":-8,"v":0.5},{"x":6,"y":-8,"v":0.25},{"x":7,"y":-8,"v":0.15},
{"x":-12,"y":-9,"v":0.2},{"x":-11,"y":-9,"v":0.35},{"x":-10,"y":-9,"v":0.5},{"x":-9,"y":-9,"v":0.75},{"x":-8,"y":-9,"v":0.95},{"x":-7,"y":-9,"v":1.1},{"x":-6,"y":-9,"v":1.3},{"x":-5,"y":-9,"v":1.4},{"x":-4,"y":-9,"v":1.4},{"x":-3,"y":-9,"v":1.3},{"x":-2,"y":-9,"v":1.25},{"x":-1,"y":-9,"v":1.1},{"x":0,"y":-9,"v":1.1},{"x":1,"y":-9,"v":0.95},{"x":2,"y":-9,"v":0.75},{"x":3,"y":-9,"v":0.55},{"x":4,"y":-9,"v":0.35},{"x":5,"y":-9,"v":0.25},{"x":6,"y":-9,"v":0.2},{"x":7,"y":-9,"v":0.15},
{"x":-12,"y":-10,"v":0.2},{"x":-11,"y":-10,"v":0.3},{"x":-10,"y":-10,"v":0.45},{"x":-9,"y":-10,"v":0.7},{"x":-8,"y":-10,"v":0.8},{"x":-7,"y":-10,"v":0.95},{"x":-6,"y":-10,"v":1.05},{"x":-5,"y":-10,"v":1.1},{"x":-4,"y":-10,"v":1.0},{"x":-3,"y":-10,"v":0.95},{"x":-2,"y":-10,"v":0.85},{"x":-1,"y":-10,"v":0.85},{"x":0,"y":-10,"v":0.85},{"x":1,"y":-10,"v":0.6},{"x":2,"y":-10,"v":0.5},{"x":3,"y":-10,"v":0.35},{"x":4,"y":-10,"v":0.25},{"x":5,"y":-10,"v":0.2},{"x":6,"y":-10,"v":0.15},
{"x":-12,"y":-11,"v":0.2},{"x":-11,"y":-11,"v":0.25},{"x":-10,"y":-11,"v":0.3},{"x":-9,"y":-11,"v":0.45},{"x":-8,"y":-11,"v":0.55},{"x":-7,"y":-11,"v":0.75},{"x":-6,"y":-11,"v":0.75},{"x":-5,"y":-11,"v":0.75},{"x":-4,"y":-11,"v":0.65},{"x":-3,"y":-11,"v":0.65},{"x":-2,"y":-11,"v":0.65},{"x":-1,"y":-11,"v":0.6},{"x":0,"y":-11,"v":0.5},{"x":1,"y":-11,"v":0.35},{"x":2,"y":-11,"v":0.3},{"x":3,"y":-11,"v":0.2},{"x":4,"y":-11,"v":0.2},{"x":5,"y":-11,"v":0.15},
{"x":-11,"y":-12,"v":0.2},{"x":-10,"y":-12,"v":0.2},{"x":-9,"y":-12,"v":0.3},{"x":-8,"y":-12,"v":0.35},{"x":-7,"y":-12,"v":0.5},{"x":-6,"y":-12,"v":0.5},{"x":-5,"y":-12,"v":0.5},{"x":-4,"y":-12,"v":0.5},{"x":-3,"y":-12,"v":0.4},{"x":-2,"y":-12,"v":0.4},{"x":-1,"y":-12,"v":0.4},{"x":0,"y":-12,"v":0.4},{"x":1,"y":-12,"v":0.3},{"x":2,"y":-12,"v":0.2},{"x":3,"y":-12,"v":0.2},{"x":4,"y":-12,"v":0.15},
{"x":-11,"y":-13,"v":0.15},{"x":-10,"y":-13,"v":0.2},{"x":-9,"y":-13,"v":0.2},{"x":-8,"y":-13,"v":0.25},{"x":-7,"y":-13,"v":0.25},{"x":-6,"y":-13,"v":0.25},{"x":-5,"y":-13,"v":0.25},{"x":-4,"y":-13,"v":0.25},{"x":-3,"y":-13,"v":0.25},{"x":-2,"y":-13,"v":0.25},{"x":-1,"y":-13,"v":0.25},{"x":0,"y":-13,"v":0.15},{"x":1,"y":-13,"v":0.15},{"x":2,"y":-13,"v":0.15},
{"x":-10,"y":-14,"v":0.15},{"x":-9,"y":-14,"v":0.15},{"x":-8,"y":-14,"v":0.15},{"x":-7,"y":-14,"v":0.15},{"x":-6,"y":-14,"v":0.15},{"x":-5,"y":-14,"v":0.15},{"x":-4,"y":-14,"v":0.15},{"x":-3,"y":-14,"v":0.15},{"x":-2,"y":-14,"v":0.15},{"x":-1,"y":-14,"v":0.15},{"x":0,"y":-14,"v":0.15},{"x":1,"y":-14,"v":0.15},{"x":-11,"y":-15,"v":0.2},{"x":-4,"y":-15,"v":0.2},{"x":-3,"y":-15,"v":0.2},{"x":-2,"y":-15,"v":0.2}],
"cb":[{"v":0.051},{"v":0.152},{"v":0.254},{"v":0.355},{"v":0.457},{"v":0.559},{"v":0.66},{"v":0.762},{"v":0.863},{"v":0.965},{"v":1.066},{"v":1.168},{"v":1.27},{"v":1.371},{"v":1.473},{"v":1.574},{"v":1.676},{"v":1.777},{"v":1.879},{"v":1.98},{"v":2.082},{"v":2.184},{"v":2.285},{"v":2.387},{"v":2.488},{"v":2.59},{"v":2.691},{"v":2.793},{"v":2.895},{"v":2.996},{"v":3.098},{"v":3.199},{"v":3.301},{"v":3.402},{"v":3.504},{"v":3.605},{"v":3.707},{"v":3.809},{"v":3.91},{"v":4.012},{"v":4.113},{"v":4.215},{"v":4.316},{"v":4.418},{"v":4.52},{"v":4.621},{"v":4.723},{"v":4.824},{"v":4.926},{"v":5.027},{"v":5.129},{"v":5.23},{"v":5.332},{"v":5.434},{"v":5.535},{"v":5.637},{"v":5.738},{"v":5.84},{"v":5.941},{"v":6.043},{"v":6.145},{"v":6.246},{"v":6.348},{"v":6.449}]},
"spacing":0,"bounds":"full","vconcat":[
{"spacing":223,"bounds":"flush","hconcat":[
{"width":764,"height":951,"title":{"text":"(a)","orient":"bottom","dx":-99,"offset":40},"resolve":{"axis":{"x":"independent","y":"independent"}},"layer":[{"data":{"name":"a"},"mark":{"type":"rect","width":31,"height":31,"clip":true},"encoding":{"x":{"field":"x","type":"quantitative","scale":{"domain":[-12.5,12.5],"nice":false,"zero":false},"axis":{"values":[-10,0,10],"labelExpr":"''+datum.value","title":"Relative cell position"}},"y":{"field":"y","type":"quantitative","scale":{"domain":[-15.5,15.5],"nice":false,"zero":false},"axis":{"values":[-15,-10,-5,0,5,10,15],"labelExpr":"''+datum.value","title":"Relative scan position"}},"color":{"field":"v","type":"quantitative","legend":null,"scale":{"type":"quantize","domain":[0,6.5],"range":["#00008f","#00009f","#0000af","#0000bf","#0000cf","#0000df","#0000ef","#0000ff","#0010ff","#0020ff","#0030ff","#0040ff","#0050ff","#0060ff","#0070ff","#0080ff","#008fff","#009fff","#00afff","#00bfff","#00cfff","#00dfff","#00efff","#00ffff","#10ffef","#20ffdf","#30ffcf","#40ffbf","#50ffaf","#60ff9f","#70ff8f","#80ff80","#8fff70","#9fff60","#afff50","#bfff40","#cfff30","#dfff20","#efff10","#ffff00","#ffef00","#ffdf00","#ffcf00","#ffbf00","#ffaf00","#ff9f00","#ff8f00","#ff8000","#ff7000","#ff6000","#ff5000","#ff4000","#ff3000","#ff2000","#ff1000","#ff0000","#ef0000","#df0000","#cf0000","#bf0000","#af0000","#9f0000","#8f0000","#800000"]}}}},{"data":{"values":[]},"mark":"rect","encoding":{"x":{"field":"x","type":"quantitative","axis":{"orient":"top","values":[-10,0,10],"labels":false,"title":null}},"y":{"field":"y","type":"quantitative","axis":{"orient":"right","values":[-15,-10,-5,0,5,10,15],"labels":false,"title":null}}}}]},
{"width":764,"height":951,"title":{"text":"(b)","orient":"bottom","dx":-99,"offset":40},"resolve":{"axis":{"x":"independent","y":"independent"}},"layer":[{"data":{"name":"b"},"mark":{"type":"rect","width":31,"height":31,"clip":true},"encoding":{"x":{"field":"x","type":"quantitative","scale":{"domain":[-12.5,12.5],"nice":false,"zero":false},"axis":{"values":[-10,0,10],"labelExpr":"''+datum.value","title":"Relative cell position"}},"y":{"field":"y","type":"quantitative","scale":{"domain":[-15.5,15.5],"nice":false,"zero":false},"axis":{"values":[-15,-10,-5,0,5,10,15],"labelExpr":"''+datum.value","title":"Relative scan position"}},"color":{"field":"v","type":"quantitative","legend":null,"scale":{"type":"quantize","domain":[0,6.5],"range":["#00008f","#00009f","#0000af","#0000bf","#0000cf","#0000df","#0000ef","#0000ff","#0010ff","#0020ff","#0030ff","#0040ff","#0050ff","#0060ff","#0070ff","#0080ff","#008fff","#009fff","#00afff","#00bfff","#00cfff","#00dfff","#00efff","#00ffff","#10ffef","#20ffdf","#30ffcf","#40ffbf","#50ffaf","#60ff9f","#70ff8f","#80ff80","#8fff70","#9fff60","#afff50","#bfff40","#cfff30","#dfff20","#efff10","#ffff00","#ffef00","#ffdf00","#ffcf00","#ffbf00","#ffaf00","#ff9f00","#ff8f00","#ff8000","#ff7000","#ff6000","#ff5000","#ff4000","#ff3000","#ff2000","#ff1000","#ff0000","#ef0000","#df0000","#cf0000","#bf0000","#af0000","#9f0000","#8f0000","#800000"]}}}},{"data":{"values":[]},"mark":"rect","encoding":{"x":{"field":"x","type":"quantitative","axis":{"orient":"top","values":[-10,0,10],"labels":false,"title":null}},"y":{"field":"y","type":"quantitative","axis":{"orient":"right","values":[-15,-10,-5,0,5,10,15],"labels":false,"title":null}}}}]},
{"width":764,"height":951,"title":{"text":"(c)","orient":"bottom","dx":-99,"offset":40},"resolve":{"axis":{"x":"independent","y":"independent"}},"layer":[{"data":{"name":"c"},"mark":{"type":"rect","width":31,"height":31,"clip":true},"encoding":{"x":{"field":"x","type":"quantitative","scale":{"domain":[-12.5,12.5],"nice":false,"zero":false},"axis":{"values":[-10,0,10],"labelExpr":"''+datum.value","title":"Relative cell position"}},"y":{"field":"y","type":"quantitative","scale":{"domain":[-15.5,15.5],"nice":false,"zero":false},"axis":{"values":[-15,-10,-5,0,5,10,15],"labelExpr":"''+datum.value","title":"Relative scan position"}},"color":{"field":"v","type":"quantitative","legend":null,"scale":{"type":"quantize","domain":[0,6.5],"range":["#00008f","#00009f","#0000af","#0000bf","#0000cf","#0000df","#0000ef","#0000ff","#0010ff","#0020ff","#0030ff","#0040ff","#0050ff","#0060ff","#0070ff","#0080ff","#008fff","#009fff","#00afff","#00bfff","#00cfff","#00dfff","#00efff","#00ffff","#10ffef","#20ffdf","#30ffcf","#40ffbf","#50ffaf","#60ff9f","#70ff8f","#80ff80","#8fff70","#9fff60","#afff50","#bfff40","#cfff30","#dfff20","#efff10","#ffff00","#ffef00","#ffdf00","#ffcf00","#ffbf00","#ffaf00","#ff9f00","#ff8f00","#ff8000","#ff7000","#ff6000","#ff5000","#ff4000","#ff3000","#ff2000","#ff1000","#ff0000","#ef0000","#df0000","#cf0000","#bf0000","#af0000","#9f0000","#8f0000","#800000"]}}}},{"data":{"values":[]},"mark":"rect","encoding":{"x":{"field":"x","type":"quantitative","axis":{"orient":"top","values":[-10,0,10],"labels":false,"title":null}},"y":{"field":"y","type":"quantitative","axis":{"orient":"right","values":[-15,-10,-5,0,5,10,15],"labels":false,"title":null}}}}]}
]},
{"width":10,"height":83,"data":{"values":[]},"mark":"point","view":{"fill":null,"stroke":null}},
{"spacing":223,"bounds":"flush","hconcat":[
{"width":270,"height":10,"data":{"values":[]},"mark":"point","view":{"fill":null,"stroke":null}},
{"width":764,"height":951,"title":{"text":"(d)","orient":"bottom","dx":-99,"offset":40},"resolve":{"axis":{"x":"independent","y":"independent"}},"layer":[{"data":{"name":"d"},"mark":{"type":"rect","width":31,"height":31,"clip":true},"encoding":{"x":{"field":"x","type":"quantitative","scale":{"domain":[-12.5,12.5],"nice":false,"zero":false},"axis":{"values":[-10,0,10],"labelExpr":"''+datum.value","title":"Relative cell position"}},"y":{"field":"y","type":"quantitative","scale":{"domain":[-15.5,15.5],"nice":false,"zero":false},"axis":{"values":[-15,-10,-5,0,5,10,15],"labelExpr":"''+datum.value","title":"Relative scan position"}},"color":{"field":"v","type":"quantitative","legend":null,"scale":{"type":"quantize","domain":[0,6.5],"range":["#00008f","#00009f","#0000af","#0000bf","#0000cf","#0000df","#0000ef","#0000ff","#0010ff","#0020ff","#0030ff","#0040ff","#0050ff","#0060ff","#0070ff","#0080ff","#008fff","#009fff","#00afff","#00bfff","#00cfff","#00dfff","#00efff","#00ffff","#10ffef","#20ffdf","#30ffcf","#40ffbf","#50ffaf","#60ff9f","#70ff8f","#80ff80","#8fff70","#9fff60","#afff50","#bfff40","#cfff30","#dfff20","#efff10","#ffff00","#ffef00","#ffdf00","#ffcf00","#ffbf00","#ffaf00","#ff9f00","#ff8f00","#ff8000","#ff7000","#ff6000","#ff5000","#ff4000","#ff3000","#ff2000","#ff1000","#ff0000","#ef0000","#df0000","#cf0000","#bf0000","#af0000","#9f0000","#8f0000","#800000"]}}}},{"data":{"values":[]},"mark":"rect","encoding":{"x":{"field":"x","type":"quantitative","axis":{"orient":"top","values":[-10,0,10],"labels":false,"title":null}},"y":{"field":"y","type":"quantitative","axis":{"orient":"right","values":[-15,-10,-5,0,5,10,15],"labels":false,"title":null}}}}]},
{"width":764,"height":951,"title":{"text":"(e)","orient":"bottom","dx":-99,"offset":40},"resolve":{"axis":{"x":"independent","y":"independent"}},"layer":[{"data":{"name":"e"},"mark":{"type":"rect","width":31,"height":31,"clip":true},"encoding":{"x":{"field":"x","type":"quantitative","scale":{"domain":[-12.5,12.5],"nice":false,"zero":false},"axis":{"values":[-10,0,10],"labelExpr":"''+datum.value","title":"Relative cell position"}},"y":{"field":"y","type":"quantitative","scale":{"domain":[-15.5,15.5],"nice":false,"zero":false},"axis":{"values":[-15,-10,-5,0,5,10,15],"labelExpr":"''+datum.value","title":"Relative scan position"}},"color":{"field":"v","type":"quantitative","legend":null,"scale":{"type":"quantize","domain":[0,6.5],"range":["#00008f","#00009f","#0000af","#0000bf","#0000cf","#0000df","#0000ef","#0000ff","#0010ff","#0020ff","#0030ff","#0040ff","#0050ff","#0060ff","#0070ff","#0080ff","#008fff","#009fff","#00afff","#00bfff","#00cfff","#00dfff","#00efff","#00ffff","#10ffef","#20ffdf","#30ffcf","#40ffbf","#50ffaf","#60ff9f","#70ff8f","#80ff80","#8fff70","#9fff60","#afff50","#bfff40","#cfff30","#dfff20","#efff10","#ffff00","#ffef00","#ffdf00","#ffcf00","#ffbf00","#ffaf00","#ff9f00","#ff8f00","#ff8000","#ff7000","#ff6000","#ff5000","#ff4000","#ff3000","#ff2000","#ff1000","#ff0000","#ef0000","#df0000","#cf0000","#bf0000","#af0000","#9f0000","#8f0000","#800000"]}}}},{"data":{"values":[]},"mark":"rect","encoding":{"x":{"field":"x","type":"quantitative","axis":{"orient":"top","values":[-10,0,10],"labels":false,"title":null}},"y":{"field":"y","type":"quantitative","axis":{"orient":"right","values":[-15,-10,-5,0,5,10,15],"labels":false,"title":null}}}}]}
]},
{"width":10,"height":92,"data":{"values":[]},"mark":"point","view":{"fill":null,"stroke":null}},
{"spacing":214,"bounds":"flush","hconcat":[
{"width":273,"height":10,"data":{"values":[]},"mark":"point","view":{"fill":null,"stroke":null}},
{"width":1584,"height":57,"data":{"name":"cb"},"view":{"fill":null,"stroke":"#262626","strokeWidth":3},"title":{"text":"×10⁻³","orient":"bottom","anchor":"end","dx":-4,"offset":-25,"font":"Liberation Sans","fontWeight":"normal","fontSize":62,"color":"#262626"},"mark":{"type":"rect","width":25.2,"clip":true},"encoding":{"x":{"field":"v","type":"quantitative","scale":{"domain":[0,6.5],"nice":false,"zero":false},"axis":{"values":[0,1,2,3,4,5,6],"title":"Weights","tickSize":-17,"labelFontSize":57,"labelPadding":43,"titleFontSize":57,"titleY":137,"titleColor":"#000000","domain":false}},"color":{"field":"v","type":"quantitative","legend":null,"scale":{"type":"quantize","domain":[0,6.5],"range":["#00008f","#00009f","#0000af","#0000bf","#0000cf","#0000df","#0000ef","#0000ff","#0010ff","#0020ff","#0030ff","#0040ff","#0050ff","#0060ff","#0070ff","#0080ff","#008fff","#009fff","#00afff","#00bfff","#00cfff","#00dfff","#00efff","#00ffff","#10ffef","#20ffdf","#30ffcf","#40ffbf","#50ffaf","#60ff9f","#70ff8f","#80ff80","#8fff70","#9fff60","#afff50","#bfff40","#cfff30","#dfff20","#efff10","#ffff00","#ffef00","#ffdf00","#ffcf00","#ffbf00","#ffaf00","#ff9f00","#ff8f00","#ff8000","#ff7000","#ff6000","#ff5000","#ff4000","#ff3000","#ff2000","#ff1000","#ff0000","#ef0000","#df0000","#cf0000","#bf0000","#af0000","#9f0000","#8f0000","#800000"]}}}}
]}
]}
